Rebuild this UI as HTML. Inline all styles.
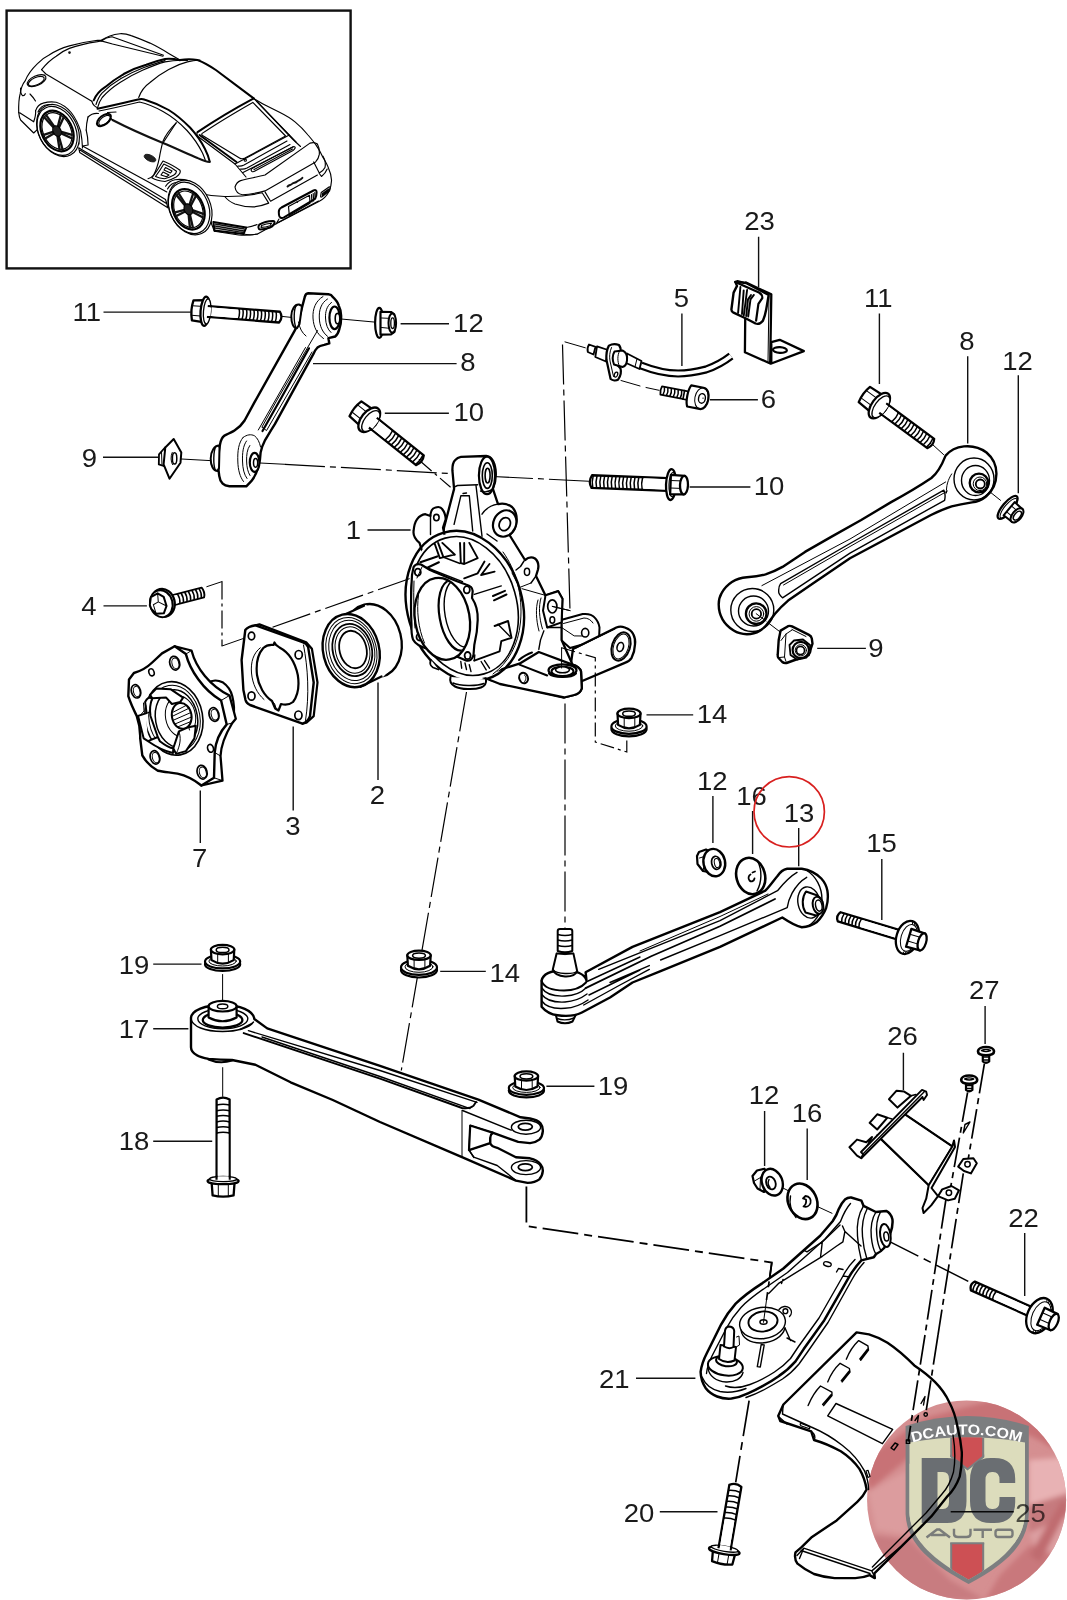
<!DOCTYPE html>
<html><head><meta charset="utf-8"><title>Rear axle parts diagram</title>
<style>
html,body{margin:0;padding:0;background:#fff;}
body{width:1067px;height:1600px;overflow:hidden;font-family:"Liberation Sans",sans-serif;}
svg{display:block;}
.o{fill:#fff;stroke:#000;stroke-width:2;stroke-linejoin:round;stroke-linecap:round;}
.w{fill:#fff;stroke:#000;stroke-width:2;stroke-linejoin:round;stroke-linecap:round;}
.m{fill:#fff;stroke:#000;stroke-width:1.4;stroke-linejoin:round;stroke-linecap:round;}
.i{fill:none;stroke:#000;stroke-width:1;stroke-linejoin:round;stroke-linecap:round;}
.t{fill:none;stroke:#000;stroke-width:1.4;stroke-linejoin:round;stroke-linecap:round;}
.k{fill:none;stroke:#000;stroke-width:2;stroke-linejoin:round;stroke-linecap:round;}
.g{fill:#fff;stroke:#000;stroke-width:1;stroke-linejoin:round;}
.d{fill:none;stroke:#000;stroke-width:1.2;stroke-dasharray:40 5 6 5;}
.l{fill:none;stroke:#111;stroke-width:1.4;}
.c{fill:none;stroke:#000;stroke-width:1.15;stroke-linejoin:round;stroke-linecap:round;}
.cb{fill:none;stroke:#000;stroke-width:2;stroke-linejoin:round;stroke-linecap:round;}
text{font-family:"Liberation Sans",sans-serif;font-size:25px;fill:#1a1a1a;text-anchor:middle;}
</style></head><body>
<svg width="1067" height="1600" viewBox="0 0 1067 1600">
<rect x="0" y="0" width="1067" height="1600" fill="#fff"/>
<!-- 00_box.svg -->
<rect x="6.6" y="10.6" width="344" height="257.8" fill="#fff" stroke="#111" stroke-width="2.4"/>

<!-- 10_car.svg -->
<g id="car">
<!-- body outline front/top -->
<path class="c" d="M18.7 112.5 C18.5 104 19 98 20.2 93.7 C21 88 22.5 84 25.3 80.6 C28 74 32 69 37.5 63.7 C41 60 44 57.5 48.7 55.3 C55 51 62 48 69.4 45.9 C78 43.5 88 41.5 97.5 40.3 L101.2 40.3 C106 37 112 34.5 120 33.7 C124 33.5 127 34 131.2 35.6 C138 38 144 40.5 150 43.1 C156 46 163 50 168.7 53.4 L180 60"/>
<path class="c" d="M41.6 69.7 C46 64 50 60 56.2 56.2 C60 53 64 50.5 69.4 48.4 C78 45.2 88 43 97.5 41.6 L101.2 40.9 L112.5 44 L163 56.2"/>
<path class="c" d="M101.2 40.9 C104 39 108 37.2 112 36.8 L163.5 55.2"/>
<path class="c" d="M41.6 69.7 L45.9 74 L91.8 101.2"/>
<circle cx="69.5" cy="52.6" r="1.3" fill="#111"/>
<!-- windshield -->
<path class="cb" d="M93.7 100.3 C96 95 100 90.5 105 87.2 C111 82 117 78 123.7 74 C131 70 138 67 146.2 64.7 C152 62.5 158 60.5 165 59 C170 58.4 175 59 180 60.2"/>
<path class="c" d="M91.8 101.2 C92.5 104 94.5 106.5 97.5 107.8 C98.5 104 100 100.5 102.2 97.5 C107 92 113 87 120 82.5 C127 78 134 74 142.5 70.3 C150 67 157 64 165 61.9 C172 60.4 180 60 187.4 60.4"/>
<path class="c" d="M96 104.5 C97.5 100 99.5 96 102 93.2 C108 87 114 82.5 121 78.5 C128 74.5 136 70.5 144 67.5 C151 65 158 62.6 165 60.6"/>
<path class="c" d="M122 75.6 l1.5 -0.8 M120 77 l0.8 -0.5"/>
<!-- roof front edge & near edge -->
<path class="c" d="M138.7 97.5 C141 91 145 86 150 82.5 C156 77 162 73 168.7 69.4 C175 66 181 63.5 187.4 61.9 C191 61 196 60.3 200 60"/>
<path class="cb" d="M97.5 108.7 C110 106 126 102.5 138 99.5 C141 98.8 143 99 145 99.8 C152 102 160 105 168.7 110 C176 114.5 183 120.5 190 127.5 C196 134 201 141 205 149 C207.5 154 209 158 209.7 161.5"/>
<path class="c" d="M99 111 C112 108.5 127 105 139.5 102 C146 103.5 155 107 163 111.5 C172 116.5 180 123 187 130.5 C193 137 198.5 145 202.5 153 C204 156.5 205 159 205.5 161"/>
<!-- roof far edge -->
<path class="cb" d="M180 60 C186 59 192 59 197.5 60 C204 62.5 210 66 216.2 70.3 L235 84.4 L253.7 98.4"/>
<path class="c" d="M253.7 98.4 C258 101 261 103 265 105 C270 107.5 275 110 280 112.5 C286 115.5 291 118.5 295 121.9 C300 126 304 130 308 135 C311 138.5 313.5 141.5 315.6 144.4 C318.5 148.5 321 153 323 157.5 C325.5 161.5 327.5 165 328.7 168.7 C330.3 172 331.3 176 331.5 180 C331.7 184 330.5 188 328.7 191.9 C326.5 196 323.5 199 319.3 201.2 L276.2 223.7 L257.5 234 C251 235.3 245 235.5 238.7 235 L214.4 231.2"/>
<!-- rear window -->
<path class="cb" d="M197.5 132.2 C214 121 234 109 253.7 98.4"/>
<path class="c" d="M197.5 132.2 C196.5 133.5 196.8 135 198 136.5 L235 164 M253.7 98.4 L289.3 135 L235 164"/>
<path class="c" d="M202.2 133.4 C218 122.5 236 112 252.8 102.4 L285.6 136 L245 158 C243 159 241 159 239.5 158 L202.5 135.5 C201.5 134.8 201.5 134 202.2 133.4Z"/>
<path class="cb" d="M199.5 135 L236.5 162"/>
<path class="c" d="M256.5 101 L292.5 139 L300.5 146.5"/>
<!-- engine lid slats -->
<path class="c" d="M235 164 L246 177 M289.3 135 L296 142 M238 166 C240 166.5 242 166 244 165 L287 141 M240.5 169 C243 169.5 245 169 247 168 L290 144.5 M243 172.5 L293 147"/>
<circle cx="245.3" cy="160.2" r="1.1" class="c"/>
<path class="c" d="M252 171.5 C250.5 170.5 251 169 252.5 168.2 L293 146.8 C294.5 146.2 295.6 147 295 148.3 C294.6 149.2 294 149.8 293 150.4 L255 171 C253.8 171.8 253 172 252 171.5Z M254 169.6 L292.5 149"/>
<!-- spoiler -->
<path class="c" d="M235 187 C236 183.5 238 181.5 240.6 180.6 C249 178.5 257 177 265 175 L310 143.1 C313 142.2 315.5 142.5 317.4 144 C319 147 319.6 150.5 319.3 154.4 C318.8 157.5 317.5 160 315.6 161.9 L265 190.9 C257 193 250 194.5 242.5 194.7 C238 194 235.5 191 235 187Z"/>
<path class="c" d="M313.7 161.9 L319.3 173 C322 171.5 324 169.5 325 167.5 C325.8 163.5 325 159.5 323 156.2"/>
<path class="c" d="M265 191.9 L270.6 201.2 L317.4 175"/>
<path class="c" d="M319.3 173.5 L321.5 176.5 C324 174.5 326 172 327.2 169"/>
<!-- turbo badge -->
<path d="M287.5 186.6 C289 184.5 291 185.5 292.5 183.5 C294 182.5 295.5 183 297 181.5 C298.5 180 300 180.5 302.4 177.8" fill="none" stroke="#111" stroke-width="1.9" stroke-linecap="round"/>
<!-- left taillight -->
<path class="c" d="M224.7 196.5 C228 200.5 231 202.5 235 204 C241 206 247 207 253.7 206.9 C259 206.5 264 205 268.7 203.1 L262.2 192.8 C250 195.5 238 196.8 224.7 196.5Z"/>
<path class="c" d="M201.2 193.7 C209 195.5 216 196.5 224.7 196.5"/>
<!-- plate recess -->
<path class="cb" d="M281.5 207.5 L313.5 190.5 C315.5 189.5 316.8 190.3 316.6 192.5 L316.2 196 C316 197.8 315.2 198.8 313.8 199.6 L284 217.3 C281.5 218.7 279.3 217.8 279 215 L278.8 212 C278.7 209.8 279.7 208.5 281.5 207.5Z"/>
<path class="c" d="M288.5 206.5 L309.5 195.3 L310 203.3 L289.3 215.4Z M311.5 194.5 l0.4 7.5 M313.2 193.5 l0.4 7.5 M314.8 192.6 l0.3 6.5"/>
<circle cx="297.3" cy="202" r="0.9" fill="#111"/>
<path class="c" d="M278 222.5 L318.5 201 M276.2 223.7 L279 219"/>
<!-- right reflector -->
<path class="c" d="M321.2 192.5 L329 187 C330 186.5 330.5 187 330.3 188 L329.6 190.8 L322 196.8 C321 197.4 320.5 197 320.6 196Z M322.5 193.5 L328.5 189.2 L328.2 190.8 L322.3 195.3Z"/>
<!-- lower vents -->
<path class="cb" d="M213.4 221.9 L246.2 227.5 L243.5 234 L214.5 230.5Z"/>
<path d="M215 224 L244.5 229 M215 226 L244 231 M215 228 L243.7 232.6" stroke="#111" stroke-width="1.3" fill="none"/>
<path class="cb" d="M259.3 224.7 C263 222.5 268 221.2 273 221 C274.5 221 275 222 274.3 223.5 C273.5 225.3 272 226.6 270 227.5 C266.5 228.8 263 229.5 260 229.5 C258.3 229.4 257.8 226.3 259.3 224.7Z"/>
<path class="c" d="M261.5 225.6 C264.5 224.2 268 223.4 271.5 223.3 L270 225.7 C267 226.8 264 227.3 261 227.3Z"/>
<path class="c" d="M246.2 227.5 C250 227 254 226 257 224.5 M243.5 234 C247 235 252 235 257.5 234"/>
<!-- rear wheel arch -->
<path class="c" d="M165.6 186.2 C168 182.5 171 180.5 175 179.7 C179.5 179 184 179.3 188 180.6 C193.5 183 198 187 201.2 191.9 C205 197 207.5 203 208.7 208.7 C210 214 211 219 211.5 223.7 L214.4 231.2"/>
<path class="c" d="M167.5 189 C170 184.5 173.5 182.3 178 182 C184 181.8 190 184 195 188.5 C200.5 194 204 201 206 208 C207.5 214 208.5 220 208.8 226"/>
<!-- side skirt -->
<path class="c" d="M82.5 146 L166.8 191.9 M78.7 147.8 L79.7 152.5 L167.8 207.8 M78.7 147.8 L165.5 199.5 M165.5 199.5 C166.5 202 167.2 205 167.8 207.8 M80.3 150.3 L166.5 203.5"/>
<!-- front fender rear / door -->
<path class="c" d="M86.2 130 C87.5 135 88 140 88.1 145 L82.5 146"/>
<path class="c" d="M88 117 C87 121 86.3 125 86.2 130"/>
<path class="c" d="M88 117 C91 114 94.5 113 98.5 113.5"/>
<!-- door rear edge -->
<path class="c" d="M176.2 122.8 C170 129 165.5 135 163 141.2 C161.5 147 160.2 152.5 159.3 158.1 C158 164.5 156.3 170 153.7 175 C152 177 150.5 178.3 148 178.7"/>
<!-- side window bottom (thick) -->
<path d="M112.5 120 C128 128 146 136 163 143 C175 148 188 154 197.5 158 C202 160 206 161.8 209.7 162" fill="none" stroke="#111" stroke-width="2.1" stroke-linecap="round"/>
<path class="c" d="M109 116.5 L112.5 120 M107.5 112.5 L116 112"/>
<!-- door handle -->
<ellipse cx="150" cy="158.1" rx="6.3" ry="3" transform="rotate(25 150 158.1)" fill="#222" stroke="#111" stroke-width="0.8"/>
<!-- side intake -->
<path class="c" d="M163 161 C169 163.5 175 166.5 180 170.3 C181 172.5 179 175 176.2 176.9 C172.5 179 169 180.5 165 181.5 C160 181.2 155.5 180 151.8 177.8 C156 172.5 159.5 167 163 161Z"/>
<path class="c" d="M163.8 164 C168.5 166 173 168.5 176.5 171.2 C176.5 172.8 175.2 174.2 173.5 175.3 C170.5 177 167.5 178 164.5 178.7 C161 178.5 158 177.7 155.5 176.5 C158.5 172.5 161.3 168.3 163.8 164Z"/>
<path class="c" d="M165.5 167.5 L172 171 L170.5 173 L164 170Z M163 172 L169 175 L166.5 176.7 L161 175Z"/>
<!-- headlight -->
<ellipse cx="36.6" cy="80.6" rx="10" ry="4.8" transform="rotate(-24 36.6 80.6)" class="c"/>
<ellipse cx="36.3" cy="81.2" rx="8.5" ry="3.7" transform="rotate(-24 36.3 81.2)" class="c"/>
<!-- front bumper details -->
<path class="c" d="M20.6 88.1 C20.3 91 21 94 22.5 95.6 C23.8 96 24.8 95 25.3 93.7"/>
<path class="c" d="M18.7 112.5 C19 115.5 19.6 118 20.6 120 L33.7 133 L37.5 129.3 M19.7 112.8 L33.7 121.8 M33.7 121.8 C35 118 36 114.5 35.6 110.6"/>
<path class="c" d="M30 94 C32 96 34 98.5 35.5 101"/>
<!-- front wheel arch -->
<path class="c" d="M35.6 110.6 C37 106.5 39.5 104 43.1 103.1 C47.5 101.8 52 101.5 56.2 102.2 C62 104 67 107.5 71.2 112.5 C75.5 118 78.5 124.5 80.6 131.2 C81.7 137 82.3 142.5 82.5 148"/>
<path class="c" d="M38 112 C40 107.5 43 105.3 47 104.8 C52 104.3 57 105.5 61.5 108.5 C67 112.5 71.5 118.5 74.5 125 C77 131 78.5 137.5 79 144"/>
<!-- mirror -->
<ellipse cx="104" cy="120" rx="8.2" ry="4.5" transform="rotate(-38 104 120)" class="cb" style="fill:#fff"/>
<ellipse cx="104.5" cy="120.3" rx="6.8" ry="3.4" transform="rotate(-38 104.5 120.3)" class="c"/>
<!-- B pillar -->
<path class="c" d="M176.2 122.8 L163 143"/>
</g>

<!-- 11_wheels.svg -->
<g id="wheels">
<g><ellipse cx="58.0" cy="130.5" rx="27.5" ry="19.5" transform="rotate(63 58.0 130.5)" class="c" style="fill:#fff"/><ellipse cx="57.1" cy="130.9" rx="25.8" ry="18.3" transform="rotate(63 57.1 130.9)" class="c" /><ellipse cx="57.0" cy="131.0" rx="21.4" ry="15.2" transform="rotate(63 57.0 131.0)" class="cb" style="stroke-width:2.2"/><ellipse cx="57.0" cy="131.0" rx="19.3" ry="13.7" transform="rotate(63 57.0 131.0)" class="c" /><path d="M57.7 132.2 L62.8 150.2" stroke="#111" stroke-width="2.3" fill="none"/><path d="M56.9 132.2 L59.7 150.2" stroke="#111" stroke-width="2.3" fill="none"/><path d="M56.4 131.9 L44.8 138.7" stroke="#111" stroke-width="2.3" fill="none"/><path d="M55.9 130.9 L43.0 135.1" stroke="#111" stroke-width="2.3" fill="none"/><path d="M56.0 130.3 L43.6 116.6" stroke="#111" stroke-width="2.3" fill="none"/><path d="M56.5 129.7 L45.6 114.3" stroke="#111" stroke-width="2.3" fill="none"/><path d="M57.0 129.7 L61.0 114.3" stroke="#111" stroke-width="2.3" fill="none"/><path d="M57.7 130.3 L64.0 116.6" stroke="#111" stroke-width="2.3" fill="none"/><path d="M58.0 130.9 L72.8 135.1" stroke="#111" stroke-width="2.3" fill="none"/><path d="M58.0 131.9 L72.7 138.8" stroke="#111" stroke-width="2.3" fill="none"/><ellipse cx="57.0" cy="131.0" rx="5.5" ry="3.9" transform="rotate(63 57.0 131.0)" class="c" style="fill:#222"/></g>
<g><ellipse cx="190.0" cy="207.5" rx="28.5" ry="20.5" transform="rotate(66 190.0 207.5)" class="c" style="fill:#fff"/><ellipse cx="189.1" cy="207.9" rx="26.8" ry="19.3" transform="rotate(66 189.1 207.9)" class="c" /><ellipse cx="188.4" cy="209.3" rx="21.1" ry="15.2" transform="rotate(66 188.4 209.3)" class="cb" style="stroke-width:2.2"/><ellipse cx="188.4" cy="209.3" rx="19.0" ry="13.7" transform="rotate(66 188.4 209.3)" class="c" /><path d="M189.0 210.6 L193.1 228.5" stroke="#111" stroke-width="2.3" fill="none"/><path d="M188.2 210.5 L190.0 228.3" stroke="#111" stroke-width="2.3" fill="none"/><path d="M187.7 210.2 L175.8 216.3" stroke="#111" stroke-width="2.3" fill="none"/><path d="M187.3 209.1 L174.3 212.6" stroke="#111" stroke-width="2.3" fill="none"/><path d="M187.4 208.5 L176.0 194.5" stroke="#111" stroke-width="2.3" fill="none"/><path d="M187.9 208.0 L178.0 192.3" stroke="#111" stroke-width="2.3" fill="none"/><path d="M188.4 208.0 L193.3 193.1" stroke="#111" stroke-width="2.3" fill="none"/><path d="M189.2 208.6 L196.1 195.5" stroke="#111" stroke-width="2.3" fill="none"/><path d="M189.5 209.2 L203.9 214.1" stroke="#111" stroke-width="2.3" fill="none"/><path d="M189.4 210.2 L203.5 217.7" stroke="#111" stroke-width="2.3" fill="none"/><ellipse cx="188.4" cy="209.3" rx="5.7" ry="4.1" transform="rotate(66 188.4 209.3)" class="c" style="fill:#222"/></g>
</g>

<!-- 15_dashlines.svg -->
<g id="dashlines">
<!-- link8L to knuckle -->
<path class="d" d="M285 464.3 L451.5 473.6"/>
<path class="d" style="stroke-dasharray:14 4 3 4" d="M421 461.8 L451.5 488"/>
<!-- knuckle to bolt10R -->
<path class="d" d="M493 476.5 L590 481.3"/>
<!-- sensor lines -->
<path class="d" d="M562.5 344.5 L565 436 L570 610.6"/>
<!-- bolt4 path -->
<path class="i" d="M206.8 586.7 L222 581.6 M222 646 L246.2 637.5"/>
<path class="d" style="stroke-dasharray:18 4 3 4" d="M222 581.6 V646"/>
<!-- plate to knuckle -->
<path class="d" d="M272.5 627.2 L410 578.5"/>
<!-- knuckle down to link17 -->
<path class="d" d="M466.5 692 L401.3 1070.5"/>
<!-- knuckle lower arm to link13 -->
<path class="d" d="M565 703.4 V928"/>
<!-- link17 fork to arm 21 -->
<path class="d" style="stroke-width:1.8;stroke-dasharray:36 6 8 6" d="M526.4 1186.4 V1226 L771.8 1262.5 L765.5 1308"/>
<path class="i" d="M765.5 1308 L763.5 1322.3"/>
<!-- arm 21 to bolt 20 -->
<path class="d" style="stroke-width:1.7;stroke-dasharray:36 6 8 6" d="M749.1 1400.6 L741.9 1444.1 L735.7 1482.3"/>
<!-- arm 21 to bolt 22 -->
<path class="d" style="stroke-width:1.5;stroke-dasharray:36 6 8 6" d="M886.2 1239.8 L969.6 1282"/>
<!-- bracket/screw lines -->
<path class="d" style="stroke-dasharray:30 5 6 5;stroke-width:1.7" d="M984.4 1063.7 L967.5 1163.3 M963.3 1173.4 L938 1335"/>
<path class="d" style="stroke-dasharray:30 5 6 5;stroke-width:1.7" d="M967.6 1092.4 L949.8 1192 M946 1199 L925 1335"/>
</g>

<!-- 20_link8_left.svg -->
<g id="link8L">
<!-- axis lines -->
<path class="i" d="M281.2 316.3 L291.3 317.4 M341 319 L377 322.3 M181.3 459 L210 460.6 M259.8 463 L285 464.3"/>
<!-- bolt 11 (generated) -->
<!-- link body -->
<path class="o" style="stroke-width:2.4" d="M304.8 296.9 Q305.5 293.5 308.2 293.2 L328.4 294.3 Q331.5 294.6 332.7 296.9 C336 300 338 303 338.6 305.3 C340.5 309 341.3 313 341.1 317.1 C341.2 322 340.5 326 339.4 328.9 C338.5 332.5 337 335 335.2 336.5 L328.4 338.2 L329.3 343.3 L324.2 344.9 C321.5 345.5 319 346.3 317.5 347.5 C315.5 349.5 314.2 352 313.3 354.2 L275 423.9 C270.5 431 267 437 264.8 440.7 C262.5 445 261.3 449 260.6 452.5 C260.5 458 259.5 463 258.1 467.7 C256.5 473 254 478 251.3 481.2 L246.3 486.3 L229.4 486.3 C226 486 224 485 222.7 483.7 C220.5 481.5 219.6 479 219.3 476.2 C218.3 470 218 464.5 218.4 459.3 C218.5 454 219 449 220.1 444.1 C220.8 440 222 437.5 224.3 435.7 C228 434 231.5 432.5 234.5 430.6 C238.5 428 242 424.5 244.6 420.5 L254.7 401.9 L294.7 330.6 C296.5 327.5 297.5 325 298.1 322.2Z"/>
<!-- upper-left bushing stub -->
<path class="o" style="fill:#fff;stroke-width:2" d="M299 304.5 C295 304 291.5 309 291.3 316 C291.2 323 293.5 328.5 297 328.3 L299.5 324 L302 306Z"/>
<path class="t" d="M296.5 305.5 C293.8 308 293.3 322 296 327.5"/>
<!-- upper boss arcs & bushing -->
<path class="i" d="M323 296.5 C315.5 301 312.5 309 313 318 C313.5 327 317 334 323.5 338.5 M327.5 299 C321 303 319 310 319.3 318 C319.6 326 322.5 332.5 327.5 336.3 M331.5 302.5 C326.5 306 325.3 312 325.5 318 C325.7 324 327.6 329.5 331 332.5"/>
<ellipse cx="334.6" cy="317.8" rx="5.2" ry="11.3" class="o" style="stroke-width:2.2"/>
<ellipse cx="337.5" cy="318.6" rx="2.3" ry="5.2" class="o" style="stroke-width:1.6;fill:#fff"/>
<!-- arm inner lines -->
<path class="i" d="M317.5 330.6 L277 400 L262 427 M312 352 L266.5 430.6 L262.3 427.2 M298.5 322 C299.5 328 302 333 306 336"/>
<path d="M309 348.3 L281.2 398 L262.5 431" stroke="#000" stroke-width="2.2" fill="none" stroke-linecap="round"/>
<path class="i" d="M305.5 347.5 L258.3 430"/>
<!-- lower left bushing stub -->
<path class="o" style="fill:#fff;stroke-width:2" d="M219 445.5 C214.5 445.5 210.8 451 210.7 458.5 C210.6 466 213.5 471 217.5 471 L219 468 L219.5 448Z"/>
<path class="t" d="M216 446.5 C213.3 450 213 466 215.5 470.3"/>
<!-- lower boss arcs & bushing -->
<path class="i" d="M243 437.5 C238.5 443 237.5 451 237.8 461 C238 470 240 477 243.5 481.5 M246.5 441 C243 446 242.3 453 242.5 461 C242.7 468.5 244 474.5 247 478.5 M249.8 445.5 C247 449.5 246.5 455 246.6 461 C246.7 467 247.8 472 250 475.5"/>
<path class="i" d="M243 437.5 C247 434.5 251 434 254.5 435.8 C257.5 438 259.5 442 260.6 447"/>
<ellipse cx="254.6" cy="462.4" rx="4.8" ry="9.5" class="o" style="stroke-width:2.2"/>
<ellipse cx="255.6" cy="462.8" rx="2.1" ry="4.4" class="o" style="stroke-width:1.5;fill:#fff"/>
<!-- nut 12 -->
<g>
<ellipse cx="379.3" cy="322.9" rx="4.2" ry="15" class="o" style="stroke-width:2.2"/>
<path class="o" style="stroke-width:2.2" d="M380.5 311.8 L391 312 L394.3 314.5 L394.5 331.8 L391 334.3 L380.5 334.6Z"/>
<path class="i" d="M381.5 318 L388.5 318.3 L392.8 317.5 M381.5 327.5 L388.5 328.2 L393 328.8 M388.5 318.3 L388.5 328.2"/>
<ellipse cx="392.3" cy="323" rx="3.8" ry="9.6" class="o" style="stroke-width:2"/>
<ellipse cx="392.6" cy="323.2" rx="1.8" ry="5.3" class="o" style="stroke-width:1.3;fill:#fff"/>
</g>
<!-- nut 9 -->
<g>
<path class="o" style="stroke-width:1.8" d="M159 454.3 L165 447.5 L165.5 464.5 L163.6 466 L158.8 464.4Z"/>
<path class="o" style="stroke-width:2" d="M173.7 439 L181.3 452.5 L180.5 462.7 L169.5 478.7 L163.6 464.3 L165.3 447.5Z"/>
<path class="i" d="M161.5 451.5 L162 465.3"/>
<ellipse cx="174.6" cy="458.4" rx="2.2" ry="5.6" class="o" style="stroke-width:1.5;fill:#fff"/>
<path class="i" d="M172.2 452.5 C170.5 456 170.7 462 172.5 464.6"/>
</g>
</g>

<!-- 21_link8_right.svg -->
<g id="link8R">
<path class="i" d="M932.4 444.4 L943.6 454.6 M980 484 L1000.5 500.3 M756.2 613.7 L785.2 635.8"/>
<!-- link body -->
<path class="o" style="stroke-width:2.4" d="M945.6 455.6 C950 450.5 956 447.3 963.9 446.4 C972 445.6 980 447.5 986.5 452.5 C993 458 996.5 465.5 996.4 473.9 C996.3 483 992.5 491 986 496.5 C982 499.8 977 502 972 502.4 C965 503.5 958 504.8 951.7 506.4 C945 508.5 938 511.5 931 515 L850 558.3 L812.5 583.7 L788.1 600.6 C783 605 778.5 609.5 775 613.7 L769.4 621.2 C766.5 625.5 763.5 628.5 760 630.6 C756 633 751.5 634.2 746.9 634.3 C742 634.2 737.5 633 733.7 630.6 C729 627.5 725 623.8 722.5 619.3 C720 615 718.7 610 718.7 604.3 C718.7 600 719.7 596.3 721.6 593.1 C724 588.5 727.5 584.8 731.9 581.9 C736.5 579 741.5 577.6 746.9 577.2 C753.5 576.8 760 576 765.6 574.4 C771.5 572.5 777 570 782.5 566.9 L805 551.9 L831.2 536.9 L861.2 520 L890.7 502.4 C906 494 921 485 931.4 478 C937 473.5 941.5 466 945.6 455.6Z"/>
<!-- upper rings -->
<path class="i" d="M951.7 473.9 C948 479.5 946 486 946.5 493 M945.6 482 L850 539 L761.9 585.6"/>
<ellipse cx="974" cy="479" rx="20" ry="21" class="t"/>
<ellipse cx="975.5" cy="480.5" rx="14" ry="15" class="t"/>
<circle cx="979" cy="483" r="9.3" class="o" style="stroke-width:2.3"/>
<circle cx="980" cy="483.8" r="6.8" class="i"/>
<circle cx="980.3" cy="484" r="4.5" class="o" style="stroke-width:1.8"/>
<!-- slot -->
<path class="t" d="M943.8 490.2 C945.3 493 945.3 497 944.6 500.3 L850 553.2 L782.5 597.8 C780 595.5 778.5 592.5 778.7 591.2 C778.5 588 779.3 585.5 780.6 583.7 L850 543.5 L943.8 490.2"/>
<path class="i" d="M947.5 491 L850 546.5 L783.5 585"/>
<!-- lower rings -->
<circle cx="752.3" cy="610" r="21.5" class="t"/>
<circle cx="753.5" cy="611" r="15" class="t"/>
<circle cx="756.2" cy="613.7" r="10.3" class="o" style="stroke-width:2.3"/>
<circle cx="756.4" cy="613.9" r="7.3" class="i"/>
<circle cx="756.4" cy="613.9" r="4.7" class="o" style="stroke-width:1.8"/>
<path class="i" d="M756.2 613.7 L766 621"/>
<!-- nut 12 right -->
<g transform="translate(1007.6 507.4) rotate(40)">
<ellipse cx="0" cy="0" rx="5" ry="14.3" class="o" style="stroke-width:2.3"/>
<ellipse cx="1.5" cy="0" rx="4.2" ry="12.5" class="i"/>
<path class="o" d="M2 -8.6 L11.5 -8.3 L12.5 8.3 L2 8.6Z"/>
<path class="i" d="M3 -3.6 H12 M3 4 H12.3"/>
<ellipse cx="12.3" cy="0" rx="4.6" ry="8.4" class="o" style="stroke-width:2"/>
<ellipse cx="12.8" cy="0" rx="2.8" ry="5.3" class="o" style="stroke-width:1.5;fill:#fff"/>
</g>
<!-- nut 9 right -->
<path class="o" style="stroke-width:2.4" d="M780.6 630.6 L788 626.2 Q790 625.4 792 626.4 L809 634.8 Q811.3 636 811.8 638.5 L812.5 643.7 L808.7 655 L786.5 663 Q784 663.5 782.3 662 L778.5 658 Q777.5 656.8 777.7 655 L778.7 640Z"/>
<path class="i" d="M781 640.5 L786 634 L792 630 M786 634 L784.5 657 L779.5 657.5 M784.5 657 L786 661.5 M792 629.5 L806 636.5"/>
<path class="o" style="stroke-width:1.8" d="M789.5 645 L794 640.5 L803 639.5 L810 645 L810.5 652 L806.5 657.5 L797 659.5 L790.5 655Z"/>
<circle cx="800.8" cy="650" r="8.2" class="o" style="stroke-width:2.2"/>
<circle cx="800.8" cy="650.3" r="5.6" class="i"/>
<circle cx="800.5" cy="650.5" r="4" class="o" style="stroke-width:1.6;fill:#fff"/>
</g>

<!-- 30_bolts.svg -->
<g id="bolts">
<g transform="translate(354.5 408.0) rotate(38.6)"><path d="M42.9 -6.2 H83.7 Q87.2 0 83.7 6.2 H42.9Z" fill="#fff" stroke="none"/><path d="M24.5 -6.2 H83.7 Q87.5 0 83.7 6.2 H24.5Z" fill="none" stroke="#000" stroke-width="2.3" stroke-linejoin="round"/><path d="M24.5 -5.1 H42.9 V5.1 H24.5Z" fill="#fff" stroke="none"/><path d="M43.9 -6.2 Q45.5 0 43.9 6.2 M47.8 -6.2 Q49.4 0 47.8 6.2 M51.7 -6.2 Q53.3 0 51.7 6.2 M55.6 -6.2 Q57.2 0 55.6 6.2 M59.5 -6.2 Q61.1 0 59.5 6.2 M63.4 -6.2 Q65.0 0 63.4 6.2 M67.3 -6.2 Q68.9 0 67.3 6.2 M71.2 -6.2 Q72.8 0 71.2 6.2 M75.1 -6.2 Q76.7 0 75.1 6.2 M79.0 -6.2 Q80.6 0 79.0 6.2 M82.9 -6.2 Q84.5 0 82.9 6.2 " fill="none" stroke="#000" stroke-width="1.5"/><path d="M1.2 -9.5 L16.5 -10.5 L16.5 10.5 L1.2 9.5 Q-1.3 0 1.2 -9.5Z" class="o" style="stroke-width:2.3"/><path d="M0.5 -4.4 H16.5 M0.5 4.7 H16.5" class="i"/><ellipse cx="18.9" cy="0" rx="8.0" ry="14.3" class="o" style="stroke-width:2.3"/><ellipse cx="20.9" cy="0" rx="6.4" ry="12.3" class="o" style="stroke-width:1.3"/><path d="M23.5 -6.2 H27.5 M23.5 6.2 H27.5" stroke="#000" stroke-width="2.3" fill="none"/><rect x="23.0" y="-5.1" width="4" height="10.1" fill="#fff"/><circle cx="83.2" cy="0" r="0.9" fill="#000"/></g>
<g transform="translate(863.4 393.8) rotate(36.4)"><path d="M38.4 -5.8 H83.7 Q87.2 0 83.7 5.8 H38.4Z" fill="#fff" stroke="none"/><path d="M25.0 -5.8 H83.7 Q87.5 0 83.7 5.8 H25.0Z" fill="none" stroke="#000" stroke-width="2.3" stroke-linejoin="round"/><path d="M25.0 -4.7 H38.4 V4.7 H25.0Z" fill="#fff" stroke="none"/><path d="M39.4 -5.8 Q41.0 0 39.4 5.8 M43.3 -5.8 Q44.9 0 43.3 5.8 M47.2 -5.8 Q48.8 0 47.2 5.8 M51.1 -5.8 Q52.7 0 51.1 5.8 M55.0 -5.8 Q56.6 0 55.0 5.8 M58.9 -5.8 Q60.5 0 58.9 5.8 M62.8 -5.8 Q64.4 0 62.8 5.8 M66.7 -5.8 Q68.3 0 66.7 5.8 M70.6 -5.8 Q72.2 0 70.6 5.8 M74.5 -5.8 Q76.1 0 74.5 5.8 M78.4 -5.8 Q80.0 0 78.4 5.8 M82.3 -5.8 Q83.9 0 82.3 5.8 " fill="none" stroke="#000" stroke-width="1.5"/><path d="M1.2 -9.5 L17.5 -10.5 L17.5 10.5 L1.2 9.5 Q-1.3 0 1.2 -9.5Z" class="o" style="stroke-width:2.3"/><path d="M0.5 -4.4 H17.5 M0.5 4.7 H17.5" class="i"/><ellipse cx="19.8" cy="0" rx="7.5" ry="14.8" class="o" style="stroke-width:2.3"/><ellipse cx="21.8" cy="0" rx="6.0" ry="12.8" class="o" style="stroke-width:1.3"/><path d="M24.0 -5.8 H28.0 M24.0 5.8 H28.0" stroke="#000" stroke-width="2.3" fill="none"/><rect x="23.5" y="-4.7" width="4" height="9.3" fill="#fff"/><circle cx="83.2" cy="0" r="0.9" fill="#000"/></g>
<g transform="translate(191.5 310.2) rotate(4.5)"><path d="M46.3 -5.4 H88.3 Q91.8 0 88.3 5.4 H46.3Z" fill="#fff" stroke="none"/><path d="M16.9 -5.4 H88.3 Q92.1 0 88.3 5.4 H16.9Z" fill="none" stroke="#000" stroke-width="2.3" stroke-linejoin="round"/><path d="M16.9 -4.2 H46.3 V4.2 H16.9Z" fill="#fff" stroke="none"/><path d="M47.3 -5.4 Q48.9 0 47.3 5.4 M51.0 -5.4 Q52.6 0 51.0 5.4 M54.7 -5.4 Q56.3 0 54.7 5.4 M58.4 -5.4 Q60.0 0 58.4 5.4 M62.1 -5.4 Q63.7 0 62.1 5.4 M65.8 -5.4 Q67.4 0 65.8 5.4 M69.5 -5.4 Q71.1 0 69.5 5.4 M73.2 -5.4 Q74.8 0 73.2 5.4 M76.9 -5.4 Q78.5 0 76.9 5.4 M80.6 -5.4 Q82.2 0 80.6 5.4 M84.3 -5.4 Q85.9 0 84.3 5.4 " fill="none" stroke="#000" stroke-width="1.5"/><path d="M1.2 -10.0 L12.3 -11.0 L12.3 11.0 L1.2 10.0 Q-1.3 0 1.2 -10.0Z" class="o" style="stroke-width:2.3"/><path d="M0.5 -4.6 H12.3 M0.5 5.0 H12.3" class="i"/><ellipse cx="13.7" cy="0" rx="4.6" ry="14.6" class="o" style="stroke-width:2.3"/><ellipse cx="15.7" cy="0" rx="3.7" ry="12.6" class="o" style="stroke-width:1.3"/><path d="M15.9 -5.4 H19.9 M15.9 5.4 H19.9" stroke="#000" stroke-width="2.3" fill="none"/><rect x="15.4" y="-4.2" width="4" height="8.5" fill="#fff"/></g>
<g transform="translate(686.5 485.2) rotate(-177.8)"><path d="M43.1 -6.3 H94.8 Q98.3 0 94.8 6.3 H43.1Z" fill="#fff" stroke="none"/><path d="M19.0 -6.3 H94.8 Q98.6 0 94.8 6.3 H19.0Z" fill="none" stroke="#000" stroke-width="2.3" stroke-linejoin="round"/><path d="M19.0 -5.2 H43.1 V5.2 H19.0Z" fill="#fff" stroke="none"/><path d="M44.1 -6.3 Q45.7 0 44.1 6.3 M47.9 -6.3 Q49.5 0 47.9 6.3 M51.7 -6.3 Q53.3 0 51.7 6.3 M55.5 -6.3 Q57.1 0 55.5 6.3 M59.3 -6.3 Q60.9 0 59.3 6.3 M63.1 -6.3 Q64.7 0 63.1 6.3 M66.9 -6.3 Q68.5 0 66.9 6.3 M70.7 -6.3 Q72.3 0 70.7 6.3 M74.5 -6.3 Q76.1 0 74.5 6.3 M78.3 -6.3 Q79.9 0 78.3 6.3 M82.1 -6.3 Q83.7 0 82.1 6.3 M85.9 -6.3 Q87.5 0 85.9 6.3 M89.7 -6.3 Q91.3 0 89.7 6.3 M93.5 -6.3 Q95.1 0 93.5 6.3 " fill="none" stroke="#000" stroke-width="1.5"/><ellipse cx="15.5" cy="0" rx="5.0" ry="15.4" class="o" style="stroke-width:2.3"/><ellipse cx="14.0" cy="0" rx="3.6" ry="12.2" class="i"/><path d="M2 -9.2 L16.0 -9.8 L16.0 9.8 L2 9.2Z" class="o" style="stroke-width:2.3"/><path d="M3 -3.4 H16.0 M3 4.0 H16.0" class="i"/><ellipse cx="2.5" cy="0" rx="4" ry="9.2" class="o" style="stroke-width:2.3"/></g>
<g transform="translate(924.5 942.6) rotate(-163.2)"><path d="M66.2 -4.8 H89.1 Q92.6 0 89.1 4.8 H66.2Z" fill="#fff" stroke="none"/><path d="M25.5 -4.8 H89.1 Q92.9 0 89.1 4.8 H25.5Z" fill="none" stroke="#000" stroke-width="2.3" stroke-linejoin="round"/><path d="M25.5 -3.6 H66.2 V3.6 H25.5Z" fill="#fff" stroke="none"/><path d="M67.2 -4.8 Q68.8 0 67.2 4.8 M70.8 -4.8 Q72.4 0 70.8 4.8 M74.4 -4.8 Q76.0 0 74.4 4.8 M78.0 -4.8 Q79.6 0 78.0 4.8 M81.6 -4.8 Q83.2 0 81.6 4.8 M85.2 -4.8 Q86.8 0 85.2 4.8 " fill="none" stroke="#000" stroke-width="1.5"/><ellipse cx="17.8" cy="0" rx="11.0" ry="17.0" class="o" style="stroke-width:2.3"/><ellipse cx="16.3" cy="0" rx="7.9" ry="13.8" class="i"/><path d="M17.8 17.0 L16.8 14.4 M15.4 16.6 L14.9 14.0 M13.0 15.3 L13.1 13.0 M10.9 13.3 L11.5 11.3 M9.2 10.6 L10.1 9.0 M7.9 7.4 L9.1 6.2 M7.1 3.8 L8.4 3.2 M6.8 0.0 L8.2 0.0 M7.1 -3.8 L8.4 -3.2 M7.9 -7.4 L9.1 -6.2 M9.2 -10.6 L10.1 -9.0 M10.9 -13.3 L11.5 -11.3 M13.0 -15.3 L13.1 -13.0 M15.4 -16.6 L14.9 -14.0 M17.8 -17.0 L16.8 -14.4 " class="i"/><path d="M2 -8.8 L16.5 -9.3 L16.5 9.3 L2 8.8Z" class="o" style="stroke-width:2.3"/><path d="M3 -3.3 H16.5 M3 3.8 H16.5" class="i"/><ellipse cx="2.5" cy="0" rx="4" ry="8.8" class="o" style="stroke-width:2.3"/></g>
<g transform="translate(223.1 1196.5) rotate(-90.0)"><path d="M62.4 -6.5 H97.0 Q100.5 0 97.0 6.5 H62.4Z" fill="#fff" stroke="none"/><path d="M17.7 -6.5 H97.0 Q100.8 0 97.0 6.5 H17.7Z" fill="none" stroke="#000" stroke-width="2.3" stroke-linejoin="round"/><path d="M17.7 -5.3 H62.4 V5.3 H17.7Z" fill="#fff" stroke="none"/><path d="M63.4 -6.5 Q65.0 0 63.4 6.5 M69.0 -6.5 Q70.6 0 69.0 6.5 M74.6 -6.5 Q76.2 0 74.6 6.5 M80.2 -6.5 Q81.8 0 80.2 6.5 M85.8 -6.5 Q87.4 0 85.8 6.5 M91.4 -6.5 Q93.0 0 91.4 6.5 " fill="none" stroke="#000" stroke-width="1.5"/><path d="M1.2 -10.5 L14.5 -11.5 L14.5 11.5 L1.2 10.5 Q-1.3 0 1.2 -10.5Z" class="o" style="stroke-width:2.3"/><path d="M0.5 -4.8 H14.5 M0.5 5.2 H14.5" class="i"/><ellipse cx="15.5" cy="0" rx="3.2" ry="15.5" class="o" style="stroke-width:2.3"/><ellipse cx="17.5" cy="0" rx="2.6" ry="13.5" class="o" style="stroke-width:1.3"/><path d="M16.7 -6.5 H20.7 M16.7 6.5 H20.7" stroke="#000" stroke-width="2.3" fill="none"/><rect x="16.2" y="-5.3" width="4" height="10.7" fill="#fff"/></g>
<g transform="translate(1056.0 1323.0) rotate(-156.0)"><path d="M66.4 -4.8 H91.0 Q94.5 0 91.0 4.8 H66.4Z" fill="#fff" stroke="none"/><path d="M26.5 -4.8 H91.0 Q94.8 0 91.0 4.8 H26.5Z" fill="none" stroke="#000" stroke-width="2.3" stroke-linejoin="round"/><path d="M26.5 -3.6 H66.4 V3.6 H26.5Z" fill="#fff" stroke="none"/><path d="M67.4 -4.8 Q69.0 0 67.4 4.8 M71.0 -4.8 Q72.6 0 71.0 4.8 M74.6 -4.8 Q76.2 0 74.6 4.8 M78.2 -4.8 Q79.8 0 78.2 4.8 M81.8 -4.8 Q83.4 0 81.8 4.8 M85.4 -4.8 Q87.0 0 85.4 4.8 M89.0 -4.8 Q90.6 0 89.0 4.8 " fill="none" stroke="#000" stroke-width="1.5"/><ellipse cx="18.1" cy="0" rx="12.0" ry="18.5" class="o" style="stroke-width:2.3"/><ellipse cx="16.6" cy="0" rx="8.6" ry="15.3" class="i"/><path d="M18.1 18.5 L17.1 15.9 M15.4 18.0 L15.0 15.5 M12.9 16.7 L13.0 14.3 M10.6 14.5 L11.3 12.4 M8.7 11.5 L9.8 9.9 M7.3 8.0 L8.7 6.9 M6.4 4.1 L8.0 3.5 M6.1 0.0 L7.7 0.0 M6.4 -4.1 L8.0 -3.5 M7.3 -8.0 L8.7 -6.9 M8.7 -11.5 L9.8 -9.9 M10.6 -14.5 L11.3 -12.4 M12.9 -16.7 L13.0 -14.3 M15.4 -18.0 L15.0 -15.5 M18.1 -18.5 L17.1 -15.9 " class="i"/><path d="M2 -8.8 L16.5 -9.3 L16.5 9.3 L2 8.8Z" class="o" style="stroke-width:2.3"/><path d="M3 -3.3 H16.5 M3 3.8 H16.5" class="i"/><ellipse cx="2.5" cy="0" rx="4" ry="8.8" class="o" style="stroke-width:2.3"/></g>
<g transform="translate(722.0 1564.0) rotate(-80.3)"><path d="M44.6 -6.1 H79.2 Q82.7 0 79.2 6.1 H44.6Z" fill="#fff" stroke="none"/><path d="M15.9 -6.1 H79.2 Q83.0 0 79.2 6.1 H15.9Z" fill="none" stroke="#000" stroke-width="2.3" stroke-linejoin="round"/><path d="M15.9 -4.9 H44.6 V4.9 H15.9Z" fill="#fff" stroke="none"/><path d="M45.6 -6.1 Q47.2 0 45.6 6.1 M51.2 -6.1 Q52.8 0 51.2 6.1 M56.8 -6.1 Q58.4 0 56.8 6.1 M62.4 -6.1 Q64.0 0 62.4 6.1 M68.0 -6.1 Q69.6 0 68.0 6.1 M73.6 -6.1 Q75.2 0 73.6 6.1 " fill="none" stroke="#000" stroke-width="1.5"/><path d="M1.2 -10.3 L12.5 -11.3 L12.5 11.3 L1.2 10.3 Q-1.3 0 1.2 -10.3Z" class="o" style="stroke-width:2.3"/><path d="M0.5 -4.7 H12.5 M0.5 5.1 H12.5" class="i"/><ellipse cx="13.5" cy="0" rx="3.4" ry="15.5" class="o" style="stroke-width:2.3"/><ellipse cx="15.5" cy="0" rx="2.7" ry="13.5" class="o" style="stroke-width:1.3"/><path d="M14.9 -6.1 H18.9 M14.9 6.1 H18.9" stroke="#000" stroke-width="2.3" fill="none"/><rect x="14.4" y="-4.9" width="4" height="9.9" fill="#fff"/></g>
</g>

<!-- 31_nuts.svg -->
<g id="nutsV">
<g><ellipse cx="222.6" cy="964.2" rx="17.6" ry="6.8" class="o" style="stroke-width:2.2"/><ellipse cx="222.6" cy="961.6" rx="17.6" ry="6.8" class="o" style="stroke-width:2.2"/><ellipse cx="222.6" cy="961.1" rx="13.7" ry="4.9" class="i"/><path class="o" style="stroke-width:2.2" d="M210.9 949.6 L211.5 960.1 Q222.6 967.1 233.7 960.1 L234.3 949.6Z"/><ellipse cx="222.6" cy="949.6" rx="11.7" ry="4.7" class="o" style="stroke-width:2.2"/><path class="i" d="M217.7 953.8 V962.8 M228.4 953.6 V962.6"/><ellipse cx="222.6" cy="949.9" rx="6.4" ry="2.6" class="o" style="stroke-width:1.5;fill:#fff"/></g>
<g><ellipse cx="526.4" cy="1090.6" rx="17.6" ry="6.8" class="o" style="stroke-width:2.2"/><ellipse cx="526.4" cy="1088.0" rx="17.6" ry="6.8" class="o" style="stroke-width:2.2"/><ellipse cx="526.4" cy="1087.5" rx="13.7" ry="4.9" class="i"/><path class="o" style="stroke-width:2.2" d="M514.7 1076.0 L515.3 1086.5 Q526.4 1093.5 537.5 1086.5 L538.1 1076.0Z"/><ellipse cx="526.4" cy="1076.0" rx="11.7" ry="4.7" class="o" style="stroke-width:2.2"/><path class="i" d="M521.5 1080.2 V1089.2 M532.2 1080.0 V1089.0"/><ellipse cx="526.4" cy="1076.3" rx="6.4" ry="2.6" class="o" style="stroke-width:1.5;fill:#fff"/></g>
<g><ellipse cx="419.0" cy="969.9" rx="18.0" ry="7.6" class="o" style="stroke-width:2.2"/><ellipse cx="419.0" cy="967.3" rx="18.0" ry="7.6" class="o" style="stroke-width:2.2"/><ellipse cx="419.0" cy="966.8" rx="14.0" ry="5.5" class="i"/><path class="o" style="stroke-width:2.2" d="M407.3 955.3 L407.9 965.8 Q419.0 972.8 430.1 965.8 L430.7 955.3Z"/><ellipse cx="419.0" cy="955.3" rx="11.7" ry="4.7" class="o" style="stroke-width:2.2"/><path class="i" d="M414.1 959.5 V968.5 M424.9 959.3 V968.3"/><ellipse cx="419.0" cy="955.6" rx="6.4" ry="2.6" class="o" style="stroke-width:1.5;fill:#fff"/></g>
<g><ellipse cx="629.0" cy="729.0" rx="17.6" ry="7.4" class="o" style="stroke-width:2.2"/><ellipse cx="629.0" cy="726.4" rx="17.6" ry="7.4" class="o" style="stroke-width:2.2"/><ellipse cx="629.0" cy="725.9" rx="13.7" ry="5.3" class="i"/><path class="o" style="stroke-width:2.2" d="M617.5 713.4 L618.1 724.9 Q629.0 731.9 639.9 724.9 L640.5 713.4Z"/><ellipse cx="629.0" cy="713.4" rx="11.5" ry="4.7" class="o" style="stroke-width:2.2"/><path class="i" d="M624.2 717.6 V727.6 M634.8 717.4 V727.4"/><ellipse cx="629.0" cy="713.7" rx="6.3" ry="2.6" class="o" style="stroke-width:1.5;fill:#fff"/></g>
</g>

<!-- 40_knuckle.svg -->
<g id="knuckle">
<!-- rear U bracket (behind) -->
<path class="o" d="M561 620 L582.7 614 C588 613.5 592.5 615 594.5 617.4 C597.5 620.5 599 624 599.5 627.5 L599 640 L570 648 L561 640Z"/>
<path class="i" d="M563.5 623.5 L584 618 C588 618 591 620 593 623 M561.6 627.5 L574.2 635.9 L583 636"/>
<ellipse cx="585.2" cy="632.7" rx="3.6" ry="4.3" class="o" style="stroke-width:1.6"/>
<!-- toe-link arm to the right -->
<path class="o" style="stroke-width:2.3" d="M573 649 L616.4 627.5 C619 626.5 622 626.5 624.8 627.5 C629 629 632 631.5 633.3 634.2 C635 637.5 635.5 641 635 644.4 C634.8 649.5 633.5 654 631.6 657.8 C630 660.5 627.5 662 624.8 662.9 L581 681.5 L570 670Z"/>
<ellipse cx="621" cy="646.5" rx="9" ry="14.6" transform="rotate(18 621 646.5)" class="o" style="stroke-width:2"/>
<ellipse cx="621" cy="646.5" rx="7.4" ry="12.8" transform="rotate(18 621 646.5)" class="i"/>
<ellipse cx="620.3" cy="647" rx="3.2" ry="4.6" transform="rotate(15 620.3 647)" class="o" style="stroke-width:1.6"/>
<path class="i" d="M576 648 L615 629"/>
<!-- body right side / upper-right -->
<path class="o" style="stroke-width:2.3" d="M452.4 470.4 C452.3 465.5 453.3 462 455 460.2 C456.8 458.2 458.8 457.2 460.9 456.9 L486.2 456 C491 456.5 494.5 462 495.6 470 C496.3 477 495.3 483.5 492.9 488.9 L498 504.1 C503 503 508 504 512 507 C515.5 510.5 517 515.5 516.6 521 C516 527 513.5 532 509.5 535 L525 560 C528 557.5 532 556.8 535 558.5 C538 561 539 565 538 569.5 L536 576 L545.5 595.4 L558.2 591.2 L562.4 598.8 L561.6 622.4 L561.6 640 L572.5 664.6 C577 666 580 668.5 581 671.3 L581.8 688.2 C581 691.5 578 694 574.2 695 L564.1 697.5 L490 680 L440 560 L444 527.7 L454.1 488.9Z"/>
<!-- top boss bushing -->
<ellipse cx="487" cy="475.4" rx="8.1" ry="18.8" class="o" style="stroke-width:2.2"/>
<ellipse cx="487.3" cy="475.6" rx="5" ry="12.8" class="o" style="stroke-width:1.6"/>
<ellipse cx="487.6" cy="475.6" rx="2.5" ry="7.4" class="o" style="stroke-width:1.6;fill:#fff"/>
<path class="t" d="M454.1 487.2 L457.5 485.5 L477.7 484.7"/>
<!-- upright ribs -->
<path class="t" d="M460.9 495.7 L454.1 524.3 M469.3 495.7 L472.7 531 M476 485.5 L482 536.2 M460.9 495.7 L469.3 495.7 M463 493.5 L466.5 493 M492.9 488.9 C489 492 484.5 492.5 480.5 491"/>
<!-- right boss cylinder -->
<path class="t" d="M482 514.2 C486 508 492 505 498 504.1 M487 534 L497 541"/>
<ellipse cx="504.7" cy="523.5" rx="11.3" ry="13.6" transform="rotate(25 504.7 523.5)" class="o" style="stroke-width:2.2"/>
<ellipse cx="504.8" cy="524" rx="5.4" ry="6.8" transform="rotate(25 504.5 524)" class="o" style="stroke-width:1.8"/>
<!-- upper right ear -->
<path class="t" d="M516 570 L520.5 566.5 L524 561 M531 583 L536 576"/>
<ellipse cx="527" cy="571.8" rx="2.6" ry="3.6" class="o" style="stroke-width:1.5"/>
<path class="i" d="M512 573 L519.5 587.5 L531 583 M522 588.7 L545.5 595.4 M519.5 587.5 L522 601"/>
<!-- sensor plate -->
<path class="o" style="stroke-width:2" d="M545.5 595.4 L558.2 591.2 L562.4 598.8 L561.6 622.4 L547.2 627.5 L543 610.6Z"/>
<path class="i" d="M541 598 C538.5 606 539 618 542.5 629 M538 600 C535.5 608 536 620 539 631"/>
<ellipse cx="552.3" cy="606.4" rx="4.6" ry="6.6" class="o" style="stroke-width:1.7"/>
<ellipse cx="552.3" cy="620" rx="2.4" ry="3.2" class="o" style="stroke-width:1.5"/>
<path class="i" d="M552.3 606.4 L570 610.6"/>
<!-- body lower-right contour -->
<path class="t" d="M543.9 630.8 C541 637 539.5 643 538.8 649.4 M547.2 627.5 L561.6 627.5"/>
<!-- lower arm plate -->
<path class="o" style="stroke-width:2.3" d="M538.8 652 L572.5 664.6 C577 666 580 668.5 581 671.3 L581.8 688.2 C581 691.5 578 694 574.2 695 L564.1 697.5 L500 684 L480 676 L519.4 663.7Z"/>
<path class="k" d="M519.4 664.6 L547.2 675.5 M519 660 C522 657.5 527 654 532 652.5"/>
<ellipse cx="562.5" cy="670.3" rx="14" ry="6" class="o" style="stroke-width:2.2"/>
<ellipse cx="562.5" cy="671.3" rx="11" ry="4.6" class="o" style="stroke-width:2;fill:#fff"/>
<ellipse cx="562.5" cy="669.8" rx="7" ry="3" class="o" style="stroke-width:1.6;fill:#fafafa"/>
<path class="k" d="M549 673.5 C553 678 571 678.5 576 673.5"/>
<ellipse cx="523.6" cy="678" rx="4.3" ry="5.3" transform="rotate(-20 523.6 678)" class="o" style="stroke-width:2"/>
<path class="i" d="M524.5 675 C526.5 676.5 526.5 680 524.5 681.5"/>
<!-- left ear & bump behind ring -->
<path class="o" style="stroke-width:2.2" d="M419.5 542.9 C415 539 413 535 413.6 531 C414 526 415 522 417 519.3 C419.5 516 422.5 514.5 425.4 514.2 L430.5 516 L430.5 514.2 C431 510.5 433 508 435.5 507.5 C438.5 506.5 441 507.2 442.3 509.2 C444.5 512 445.6 515.5 445.7 519.3 L443 527.7 L450 560 L425 560Z"/>
<path class="t" d="M430.5 534.5 L430.5 516"/>
<ellipse cx="436.4" cy="517.6" rx="2.7" ry="3.2" class="o" style="stroke-width:1.6"/>
<!-- housing body inside ring -->
<ellipse cx="464.8" cy="606" rx="55" ry="74" transform="rotate(-16 464.8 606)" fill="#fff" stroke="none"/>
<!-- ribs -->
<path class="k" style="stroke-width:1.9" d="M434.7 543.7 L439.8 558.1 L454.1 554.7 M438.1 542.9 L443.1 556.4 M442.3 542.9 L454.9 554.7"/>
<path class="k" style="stroke-width:2.1" d="M420.4 562.3 L437.2 556.4 M426.3 568.2 L438.9 562.3"/>
<path class="k" style="stroke-width:1.9" d="M460 542.9 L460.8 563.1 L464.2 564 L464.2 542.9 M464.2 564 L477.7 558.1 L469.3 542.9"/>
<path class="k" style="stroke-width:1.9" d="M489.5 564 L481.1 575 L494.6 571.6 M484.5 561.5 L477.7 573.3 L464.2 578.3"/>
<path class="t" d="M423.7 566.5 L462.5 581.7 M474.3 594.4 L501.3 585.9 M443 557 L460 563.5"/>
<path class="k" style="stroke-width:2" d="M493 596 L505 590.8 M494 600.3 L506.5 594.5"/>
<path class="k" style="stroke-width:1.9" d="M494.6 626 L508.1 621 L511.5 637.8 L501.3 641.2 L499.6 651.3 L474.3 660.6"/>
<path class="t" d="M498 624.3 L509.8 636.2 M474.5 611 L475 640 M474.8 655 L474.3 660.6"/>
<path class="t" d="M481.1 661.5 L486.2 669.9 M484.5 660.6 L489.5 668.2 M460.8 661.5 L461.7 668.2 M469.3 664.8 L471 671.6 M465 663 L466.5 669.5"/>
<!-- ring -->
<ellipse cx="464.8" cy="606" rx="57.5" ry="76.4" transform="rotate(-16 464.8 606)" class="k" style="stroke-width:2.4"/>
<ellipse cx="464.6" cy="606" rx="52" ry="70.6" transform="rotate(-16 464.6 606)" class="t" style="stroke-width:1.6"/>
<path class="i" d="M503 552 C516 570 523 595 520.5 622 C518.5 645 508 663 493 674"/>
<!-- lower bosses under ring -->
<path class="o" style="stroke-width:2" d="M450.5 677 C449.5 681 451 684.5 455 686.5 C461 689.5 474 690 481 687.5 C485 686 486.5 683 486 679.5"/>
<path class="t" d="M453 683 C460 686 476 686.5 484 683.5"/>
<path class="o" style="stroke-width:1.8" d="M431 660 C429.5 663 430.5 666 433 667.5 L438.5 669.5"/>
<!-- front flange -->
<path class="o" style="stroke-width:2.2" d="M413.6 567 C415 564.5 418 563.5 421 564.5 L430 570 C442 575 455 581 466 584.5 C470 585.5 472.5 588 472.7 591 L472 598 C476 604 478 612 477.7 620 C477.5 630 476 638 474.3 645 L473.5 655 C472.5 659.5 469.5 661.5 466 660.5 L458 657 C448 656.5 438 653.5 429 649.5 C422 647.5 415.5 644.5 413 639.5 C411.5 635 411.3 630 411.5 625 C411.2 619 411 613 411 607.5 C411 595 411.5 584 412 575Z"/>
<ellipse cx="417.8" cy="572.2" rx="3" ry="3.6" class="o" style="stroke-width:1.8"/>
<ellipse cx="466.8" cy="589.8" rx="3" ry="3.6" class="o" style="stroke-width:1.8"/>
<ellipse cx="419.5" cy="637" rx="3" ry="3.6" class="o" style="stroke-width:1.8"/>
<ellipse cx="467.6" cy="655.6" rx="3" ry="3.6" class="o" style="stroke-width:1.8"/>
<path class="i" d="M414 581 C413.5 596 413.5 612 415 628 M422 567 L417 578"/>
<!-- bore -->
<defs><clipPath id="borec"><ellipse cx="442.3" cy="618.8" rx="26.5" ry="40.5" transform="rotate(-10 442.3 618.8)"/></clipPath></defs>
<ellipse cx="442.3" cy="618.8" rx="27.3" ry="41.3" transform="rotate(-10 442.3 618.8)" class="w" style="stroke-width:2.3"/>
<g clip-path="url(#borec)">
<ellipse cx="456" cy="615.5" rx="16.5" ry="35.5" transform="rotate(-10 456 615.5)" class="k" style="stroke-width:2.2"/>
<ellipse cx="461" cy="613.5" rx="16" ry="34" transform="rotate(-10 461 613.5)" class="t"/>
</g>
<path class="i" d="M418.5 595 C416.5 610 418 628 424.5 643"/>
</g>

<!-- 50_sensor_bracket.svg -->
<g id="sensor">
<!-- cable -->
<path d="M641 365.5 C655 371 667 373.5 678.1 373.5 C690 373.5 698 371.5 706 369.5 C716 366 724 361.5 731 356" fill="none" stroke="#000" stroke-width="8" stroke-linecap="butt"/>
<path d="M641 365.5 C655 371 667 373.5 678.1 373.5 C690 373.5 698 371.5 706 369.5 C716 366 724 361.5 731 356" fill="none" stroke="#fff" stroke-width="3.8" stroke-linecap="butt"/>
<!-- neck -->
<path class="o" style="stroke-width:1.8" d="M627 353.5 L641.5 361 L639.5 369 L625 362.5Z"/>
<path class="i" d="M637 358.8 L635 366.8"/>
<!-- tip -->
<path class="o" style="stroke-width:1.8" d="M589 344.5 L595.5 346.8 L593.5 354.5 L587.8 352 Q586.8 348 589 344.5Z"/>
<path class="o" style="stroke-width:1.8" d="M597 346.3 L608 350 L606 361.5 L595.3 357Z"/>
<!-- plate -->
<path class="o" style="stroke-width:2.2" d="M608.9 345.6 C612 343.8 616 343.8 619 345 C620.5 347 621 349 620.5 352 L615 362 L620.5 368.5 C621.5 372 620.5 376 618.2 379.5 C616 381 612.5 380.5 610.6 379 L606.5 360 C606 354 607 349 608.9 345.6Z"/>
<path class="i" d="M611.5 347.5 C609.5 352 609.3 357 610 361 L613.5 376.5"/>
<ellipse cx="616" cy="374.6" rx="1.6" ry="2.6" transform="rotate(20 616 374.6)" class="o" style="stroke-width:1.3"/>
<!-- main cylinder -->
<path class="o" style="stroke-width:2" d="M614.5 351.5 L622.5 350.5 C626 352 627.5 356 627 360.5 C626.5 364 625 366.5 622.5 367 L614 364.5 C612.3 360 612.5 355 614.5 351.5Z"/>
<path class="i" d="M619.5 351.2 C617.3 355 617.3 361.5 619.3 366"/>
<!-- axis -->
<path class="i" d="M565 341.9 L585.3 347.8 M621 380.5 L640 386 M646 387.5 L659 390.3"/>
</g>
<g id="bolt6" transform="translate(661.2 390.5) rotate(11)">
<path d="M0 -4.2 H24 V4.2 H0 Q-1.5 0 0 -4.2Z" fill="#fff" stroke="#000" stroke-width="1.8" stroke-linejoin="round"/>
<path d="M2.5 -4.2 q1.5 4.2 0 8.4 M6 -4.2 q1.5 4.2 0 8.4 M9.5 -4.2 q1.5 4.2 0 8.4 M13 -4.2 q1.5 4.2 0 8.4 M16.5 -4.2 q1.5 4.2 0 8.4 M20 -4.2 q1.5 4.2 0 8.4" stroke="#000" stroke-width="1.5" fill="none"/>
<rect x="23" y="-4.2" width="5" height="8.4" fill="#fff" stroke="#000" stroke-width="1.6"/>
<path class="o" style="stroke-width:2.2" d="M28.5 -10.8 H41 C45.5 -10.8 48 -6 48 0 C48 6 45.5 10.8 41 10.8 H28.5 C26 6 26 -6 28.5 -10.8Z"/>
<ellipse cx="41" cy="0" rx="6.6" ry="10.5" class="i"/>
<ellipse cx="41.5" cy="0" rx="3.4" ry="4.8" class="o" style="stroke-width:1.4"/>
<circle cx="42.5" cy="-0.5" r="0.7" fill="#111"/>
</g>
<g id="bracket23">
<!-- plate -->
<path class="o" style="stroke-width:2.3" d="M745.4 300 L744.9 352.2 L770.2 363.5 L771.3 294.3 L746 282.5Z"/>
<path class="i" d="M769 296 L768 362"/>
<!-- foot -->
<path class="o" style="stroke-width:2.3" d="M771.3 342.1 L779.7 339.8 L803.9 351.1 L771.3 363.5Z"/>
<ellipse cx="779.9" cy="350" rx="7" ry="2.9" transform="rotate(3 779.9 350)" class="o" style="stroke-width:2.2"/>
<!-- clip -->
<path class="o" style="stroke-width:2.4" d="M735.3 281.9 L737 285.9 L733.6 292.6 L731.4 309.5 Q731.5 311.5 733 312.3 L746 318.5 L755.5 323.5 Q759.5 325 762.9 320.7 Q765 316 766.2 309.5 L768.7 294.9 L746 283Z"/>
<path d="M735.3 281.9 L746.5 287 L759 292.5 Q762.5 294.5 762.3 298.2 L758.4 303.9 L756.1 320.7" class="k" style="stroke-width:2.2"/>
<path class="k" style="stroke-width:1.9" d="M740.4 287 L738.1 312.9 M743.7 290.4 L742 314 M747.1 290 L743.8 315.5 M753.9 294.9 L750.5 299.4 L748.2 316.5 M751 295 L748 299.4 L746.2 316"/>
<path class="t" d="M735.3 281.9 L737.5 280.6 L746 283"/>
</g>

<!-- 60_hub_plate_bearing.svg -->
<g id="hub7">
<!-- barrel behind -->
<path class="o" style="stroke-width:2.2" d="M208 683 C212 680 218 680 222.5 682.2 C228 686 231 691 232.3 696.2 C234 703 234.5 710 233.5 716 L215 705Z"/>
<!-- side thickness -->
<path class="o" style="stroke-width:2.3" d="M174.7 646.3 L191.5 650.5 C196 668 210 686 229.5 695.5 L235.8 718.7 L232.3 723 C225 735 221 745 220.5 756 L222.5 780.6 L201.4 785.5 L190 770 L205 700 L180 655Z"/>
<!-- front face -->
<path class="o" style="stroke-width:2.4" d="M162 653.4 L174.7 646.3 L185.9 654.1 C190 670 203 690 221.1 700.5 L226.7 724.4 C219 733 215.5 742 214.7 752.5 L214 777.8 L201.4 785.5 C194 779.5 186 775.5 177.5 773.6 C170.5 772.5 164 771.8 157.8 770.7 C151 767 146 762 142.3 755.3 L140.2 738.4 C140.5 730 139 722.5 136.7 715.9 C133.5 709.5 130.5 703 128.3 696.2 L129 679.4 L133.9 673 C141 671 147 667.5 152.2 662.5Z"/>
<path class="i" d="M185.9 654.1 L191.5 650.5 M221.1 700.5 L229.5 695.5 M226.7 724.4 L232.3 723 M214 777.8 L222.5 780.6 M214.7 752.5 L220.5 756"/>
<!-- holes -->
<g class="o" style="stroke-width:1.7;fill:#fff">
<ellipse cx="174.7" cy="663.2" rx="4.9" ry="7" transform="rotate(-15 174.7 663.2)"/>
<ellipse cx="136" cy="691.3" rx="4.6" ry="6.8" transform="rotate(-15 136 691.3)"/>
<ellipse cx="214" cy="714.5" rx="4.9" ry="7" transform="rotate(-15 214 714.5)"/>
<ellipse cx="155" cy="757.4" rx="4.7" ry="6.8" transform="rotate(-15 155 757.4)"/>
<ellipse cx="202.1" cy="772.2" rx="4.9" ry="7" transform="rotate(-15 202.1 772.2)"/>
</g>
<g class="i">
<ellipse cx="175.4" cy="663.4" rx="3.4" ry="5.4" transform="rotate(-15 175.4 663.4)"/>
<ellipse cx="136.7" cy="691.5" rx="3.2" ry="5.2" transform="rotate(-15 136.7 691.5)"/>
<ellipse cx="214.7" cy="714.7" rx="3.4" ry="5.4" transform="rotate(-15 214.7 714.7)"/>
<ellipse cx="155.7" cy="757.6" rx="3.3" ry="5.2" transform="rotate(-15 155.7 757.6)"/>
<ellipse cx="202.8" cy="772.4" rx="3.4" ry="5.4" transform="rotate(-15 202.8 772.4)"/>
</g>
<ellipse cx="151.5" cy="672.3" rx="2.6" ry="3.6" transform="rotate(-20 151.5 672.3)" class="o" style="stroke-width:1.5"/>
<ellipse cx="210.5" cy="748.3" rx="2.9" ry="4" transform="rotate(-15 210.5 748.3)" class="o" style="stroke-width:1.6"/>
<!-- central ring -->
<ellipse cx="173.9" cy="718.4" rx="28.8" ry="37" transform="rotate(-10 173.9 718.4)" class="o" style="stroke-width:1.6"/>
<ellipse cx="174.5" cy="718.6" rx="25.5" ry="33.5" transform="rotate(-10 174.5 718.6)" class="i"/>
<ellipse cx="176.5" cy="718.5" rx="21" ry="29" transform="rotate(-10 176.5 718.5)" class="o" style="stroke-width:1.5;fill:#fff"/>
<!-- inner bore rings -->
<ellipse cx="180.5" cy="716.5" rx="15" ry="20.5" transform="rotate(-10 180.5 716.5)" class="i"/>
<ellipse cx="181.7" cy="715.9" rx="9.8" ry="13" transform="rotate(-10 181.7 715.9)" class="o" style="stroke-width:2;fill:#fff"/>
<path class="i" d="M173.5 712 L186 705.5 M173 716 L189.5 708 M173.8 720 L191 712.5 M175 724 L191.5 717 M177.5 727 L191 721.5"/>
<!-- castle lugs -->
<path class="o" style="stroke-width:2" d="M150.1 694.8 L156.4 688.5 L170.5 689.2 L183.1 697.6 L180.3 701.9 L171.9 704 L166.2 697.6 L152.2 698.3Z"/>
<path class="o" style="stroke-width:2" d="M145.1 701.9 L146.6 713.1 L138.1 715.9 L143.7 738.4 L148 741.2 L157.8 737 L159.9 741.2 C166 746 170 748 173.3 748.3 L173 753 C164 751 155 746 148 741.2 M145.1 701.9 C147 698.5 149 696.5 152.2 698.3 C150 704 149.5 710 150.5 716 L157.8 737"/>
<path class="i" d="M146.6 713.1 L150.3 712 M141 714.5 L144 711 L143.5 703"/>
<path class="o" style="stroke-width:2" d="M173.3 748.3 L178.9 731.4 L188.7 727.2 L195.8 725.8 L194.4 738.4 L185.9 751.1 L176.1 753.9Z"/>
<path class="i" d="M178.9 731.4 C181 737 181 744 176.1 753.9 M188.7 727.2 L189.5 730"/>
</g>
<g id="plate3">
<path class="o" style="stroke-width:2.2" d="M255.6 625.3 L259.4 624.4 L306.2 642.2 L311.9 648.7 L317.5 682.5 L313.7 716.2 L306.2 722.8 L302.5 723.7 L260 650Z"/>
<path class="o" style="stroke-width:2.4" d="M245.3 630 Q248 626.5 255.6 625.3 L302.5 642.2 Q306.5 643.5 308.1 646.9 L313.7 682.5 L310 716.2 Q308 722 302.5 723.7 L250 705 Q246.5 703.5 245.5 700 L243.4 690 L241.6 660Z"/>
<path class="i" d="M303.5 645 C308 668 309.5 695 305.5 720.5"/>
<ellipse cx="251.5" cy="636" rx="3.2" ry="3.8" class="o" style="stroke-width:1.7"/>
<ellipse cx="298.7" cy="654.7" rx="3.6" ry="4.2" class="o" style="stroke-width:1.7"/>
<ellipse cx="251.5" cy="696" rx="3.5" ry="4.2" class="o" style="stroke-width:1.7"/>
<ellipse cx="298.4" cy="715.3" rx="3.6" ry="4.3" class="o" style="stroke-width:1.7"/>
<path class="i" d="M260.3 647.8 C253.5 653 250.5 662 251.5 673 C252.5 684 257 693.5 264 699.5"/>
<path class="w" style="stroke-width:2.2" d="M273.5 645 L274.5 642.5 L276 644.8 L279.5 647.5 C288 652 295 662 297.8 675 C299.5 686 297.5 696 293 702 C290 704.5 285.5 705 281 704 L278.5 710.5 L275.2 708.5 L272 701 C264.5 696 258.5 686 257 675 C255.8 664 258 654 263.3 648 C266 645.5 269.5 644.5 273.5 645Z"/>
<path class="i" d="M272 701 L274.5 703.5 L276 708"/>
</g>
<g id="bearing2">
<ellipse cx="373.2" cy="640.6" rx="28" ry="37" transform="rotate(-14 373.2 640.6)" class="o" style="stroke-width:2.3"/>
<path class="o" style="stroke:none" d="M343.7 615 L366.2 604.7 L395 665 L377.5 682.5 L358.7 687.2Z"/>
<path class="k" style="stroke-width:2.3" d="M341.5 616 L364 605.8 M360.5 686.8 L381.5 676.5"/>
<ellipse cx="351.2" cy="650.6" rx="28" ry="37" transform="rotate(-14 351.2 650.6)" class="o" style="stroke-width:2.4"/>
<ellipse cx="351.4" cy="650.6" rx="25" ry="33.5" transform="rotate(-14 351.4 650.6)" class="i"/>
<ellipse cx="351.8" cy="650.4" rx="22.5" ry="30.5" transform="rotate(-14 351.8 650.4)" class="i"/>
<ellipse cx="352.3" cy="650" rx="19.5" ry="26.5" transform="rotate(-14 352.3 650)" class="t" style="stroke-width:1.8"/>
<ellipse cx="352.5" cy="650" rx="17" ry="23.5" transform="rotate(-14 352.5 650)" class="i"/>
<ellipse cx="353" cy="649.5" rx="13.5" ry="19" transform="rotate(-14 353 649.5)" class="w" style="stroke-width:1.8"/>
</g>
<g id="bolt4" transform="translate(161.2 603.2) rotate(-14.4)">
<path d="M8 -5 H43 Q45.5 0 43 5 H8Z" fill="#fff" stroke="#000" stroke-width="1.9" stroke-linejoin="round"/>
<rect x="8" y="-4.1" width="9" height="8.2" fill="#fff"/>
<path d="M18 -5 q1.8 5 0 10 M21.7 -5 q1.8 5 0 10 M25.4 -5 q1.8 5 0 10 M29.1 -5 q1.8 5 0 10 M32.8 -5 q1.8 5 0 10 M36.5 -5 q1.8 5 0 10 M40.2 -5 q1.8 5 0 10" stroke="#000" stroke-width="1.5" fill="none"/>
<ellipse cx="2" cy="0" rx="11.5" ry="14" class="o" style="stroke-width:2.3"/>
<ellipse cx="0" cy="0.5" rx="11.2" ry="13.6" class="o" style="stroke-width:2"/>
<path class="o" style="stroke-width:2" d="M-11.5 -1 L-8.5 -8.5 L-1 -10.5 L4 -5.5 L4.5 4 L0 10.5 L-7.5 9 L-11 3Z"/>
<path class="i" d="M-1 -10.5 L-2.5 -2 L-8 -0.5 M-2.5 -2 L4.5 4 M-8 -0.5 L-7.5 9"/>
</g>

<!-- 70_link13.svg -->
<g id="link13">
<!-- bottom stub -->
<path class="o" style="fill:#fff;stroke-width:2" d="M555.6 1014 L557.5 1021.5 Q565 1025 572.5 1021.5 L576.2 1014Z"/>
<path class="t" d="M557 1018.5 Q565 1021.5 574 1018"/>
<!-- arm + housing -->
<path class="o" style="stroke-width:2.4" d="M585.6 972.2 L632.5 946.9 L720 912.2 L765.3 890.7 C770 886 774 880 777.5 876 C780 872 783 869.5 787.2 868.7 L801.8 868.7 C810 870 816.5 873.5 821.3 878.5 C824.5 882 826.5 886 827.4 890.7 C828.3 896.5 827.8 902.5 826.2 907.7 C824 913.5 820.5 918.5 816.5 922.3 C812 925.5 807 927 801.8 927.2 C795 926 789 922 782.3 917.5 L720 946.9 L660.6 971.2 L632.5 982.5 L610 997.5 L581.9 1012.5 C575 1016 566 1016.5 557.5 1015.3 C551 1014.5 545.5 1011.5 541.6 1006.8 L541.6 980.6 C543 974 552 970.5 564 970.3 C576 970.3 585 974 586.5 980.6Z"/>
<!-- housing bands -->
<path class="k" d="M541.6 981 C544 987.5 553 990.5 564 990.5 C573 990.5 581 988 586 982.5"/>
<path class="t" d="M541.8 988 C546 994.5 555 996.5 565 996 C574 995.5 581 993 586 988 M541.8 994.5 C546 1000.5 555 1002.5 565 1002 C574 1001.5 581 998.5 587 994 M541.8 1001 C546 1007 555 1009 565 1008.3 C574 1007.8 581 1005 588 1000"/>
<!-- arm inner lines -->
<path class="t" d="M598.7 969.4 L720 920.6 L777.5 890.7 C783 884 789 877 797 872.4"/>
<path class="k" style="stroke-width:1.8" d="M585.6 988.1 L651.2 956.2 L720 926.2 L775 899"/>
<path class="t" d="M610 982.5 L649.3 965.6 M660.6 960 L720 935.6 L787.2 907.7 C788 902 790 897 792.1 893.1 C796 886 801 880.5 806.7 877.3 M583.7 1005 L620 985 L649.3 969.4 M586 982 L600 975.5 L640 957 M589 995 L640 970"/>
<path class="i" d="M640 951 L720 916.5 L768 894"/>
<!-- stud -->
<path class="o" style="stroke-width:2" d="M556.6 953.4 L552.8 969.4 C556 978.5 574 978.5 577.2 971.2 L573.4 953.4Z"/>
<path class="t" d="M552.8 969.8 C557 974.5 573 974.5 577.2 971.2"/>
<path class="o" style="fill:#fff;stroke-width:2" d="M557.7 931 Q557.7 929 560 929 H570 Q572.3 929 572.3 931 V951 Q565 953.5 557.7 951Z"/>
<path class="t" d="M557.7 934.5 Q565 936.5 572.3 934.5 M557.7 940 Q565 942 572.3 940 M557.7 945.5 Q565 947.5 572.3 945.5"/>
<path class="i" d="M556.6 953.4 Q565 956 573.4 953.4"/>
<!-- right eye bushing -->
<path class="t" d="M806 870 C816 876 822 887 822 900 C822 911 817 920 809 925.5"/>
<ellipse cx="809" cy="902.5" rx="11" ry="15.8" transform="rotate(-12 809 902.5)" class="t"/>
<path class="o" style="stroke-width:2" d="M806 891.5 L817.5 895.5 C822 898.5 823.5 903 822.5 908 C821.5 912 819 915 816 915.5 L805.5 912.5 C801.5 906 802 897 806 891.5Z"/>
<ellipse cx="818" cy="905.3" rx="5.2" ry="8.6" transform="rotate(-12 818 905.3)" class="o" style="stroke-width:2"/>
<ellipse cx="818.8" cy="905.6" rx="3.2" ry="5.6" transform="rotate(-12 818.8 905.6)" class="o" style="stroke-width:1.5;fill:#fff"/>
<!-- nut 12 mid -->
<path class="o" style="stroke-width:2.2" d="M699 852 L706 849.5 L710 852 L708 872 L703 871 L697.5 864 L697 856Z"/>
<path class="i" d="M699.5 858 L706 856 L708.5 852.5 M703 870.5 L705 863"/>
<ellipse cx="714.3" cy="862.6" rx="10.8" ry="13.8" transform="rotate(-12 714.3 862.6)" class="o" style="stroke-width:2.4"/>
<ellipse cx="716.2" cy="862.8" rx="4.6" ry="6.6" transform="rotate(-12 716.2 862.8)" class="o" style="stroke-width:1.7"/>
<ellipse cx="717" cy="863" rx="2.6" ry="4.6" transform="rotate(-12 717 863)" class="i"/>
<!-- washer 16 -->
<ellipse cx="750.7" cy="876" rx="14.3" ry="18.4" transform="rotate(-15 750.7 876)" class="o" style="stroke-width:2.6"/>
<path class="t" style="stroke-width:1.8" d="M750.5 874.5 C748.5 875.5 747.8 878.5 749.5 880.5 C751.5 882.5 754 881 754.5 878.5 M752.5 872.5 L755 871.5"/>
<path class="t" d="M758 862 C762 870 762 882 757 891"/>
</g>

<!-- 71_link17.svg -->
<g id="link17">
<!-- axis lines -->
<path class="i" d="M222.6 974.5 V1003 M222.7 1067.6 V1096.4"/>
<!-- bottom stub -->
<path class="o" style="fill:#fff;stroke-width:2" d="M207.4 1054 L208.5 1059.5 Q220 1064.5 232 1060.5 L233 1054Z"/>
<!-- arm body -->
<path class="o" style="stroke-width:2.4" d="M191 1017.9 C191.5 1010.5 205 1005 222.6 1005 C240 1005 253.5 1010.5 254.3 1019 L267.2 1028.4 L380 1065.8 L478.4 1099.7 L520.6 1117.3 L530 1118.5 C535 1119.5 538.5 1121 540.5 1123.2 C542.3 1125.5 543 1128.3 542.8 1131.4 C542.5 1135 541.3 1137.8 539.3 1139.6 C537 1141.5 534 1142.7 530 1143.1 L518.2 1141.9 L492.5 1132.6 C491 1134 490.2 1136 490.1 1138 L490.1 1143.1 C491 1145.5 493.5 1147 497.2 1147.8 L515.9 1157.2 L530 1158.3 C535 1159.5 538.5 1161.5 540.5 1164.2 C542.3 1166.5 543 1168.8 542.8 1171.2 C542.5 1174.5 541.3 1177.3 539.3 1179.4 C536.5 1181.5 532.5 1182.7 527.6 1182.9 L515.9 1180.6 L462 1157.2 L380 1122 L332.8 1100 L290.6 1082.3 L255.4 1064.7 L232 1060 C225 1060 215 1059.5 208.6 1058.9 C203.5 1058 199.5 1057 196.9 1055.3 C193 1053 191 1050.5 191 1047.2Z"/>
<!-- eye top rings -->
<path class="t" d="M191 1018.5 C192 1026.5 205 1031.5 222.6 1031.5 C237 1031.5 249 1028 253.5 1022"/>
<ellipse cx="222.8" cy="1018.8" rx="25" ry="10" class="t"/>
<ellipse cx="222.6" cy="1020" rx="19.8" ry="7.6" class="o" style="stroke-width:2.3;fill:#fff"/>
<path class="o" style="stroke-width:2.2" d="M208.6 1006.3 V1017.5 Q222.6 1025 236.6 1017.5 V1006.3Z"/>
<ellipse cx="222.6" cy="1006.2" rx="14" ry="5.3" class="o" style="stroke-width:2.2"/>
<ellipse cx="222.6" cy="1006.4" rx="5.2" ry="2.3" class="o" style="stroke-width:1.5;fill:#fff"/>
<!-- slot -->
<path class="k" style="stroke-width:1.9" d="M243.7 1033.1 L380 1078.7 L462 1108 Q470 1109 473.7 1105.6 L476 1102.1"/>
<path class="t" d="M248.4 1030.7 L380 1070.5 L477 1102.3 M240 1029.5 L252 1023.5 M470 1108.6 L380 1076.5 L262 1037"/>
<!-- fork details -->
<path class="i" d="M462 1110.3 V1157.2"/>
<path class="t" d="M470.2 1125.5 L469 1150.1 L473.7 1157.2 L497.2 1165.5 L516 1180.5 M469 1150.1 L490.1 1143.1 M470.2 1125.5 L492.5 1132.6"/>
<path class="o" style="stroke-width:2.2" d="M470.2 1125.5 L492.5 1132.6 C491 1134 490.2 1136 490.1 1138 L490.1 1143.1 L469 1150.1Z"/>
<path class="t" d="M462.5 1110.5 L511.2 1130.2 M469 1150.1 L474 1157.5"/>
<ellipse cx="526" cy="1127.2" rx="14.6" ry="7" class="t"/>
<ellipse cx="525.3" cy="1126.7" rx="7" ry="3.4" class="o" style="stroke-width:1.8;fill:#fff"/>
<ellipse cx="526" cy="1167.6" rx="14.6" ry="7" class="t"/>
<ellipse cx="525.3" cy="1167.2" rx="7" ry="3.4" class="o" style="stroke-width:1.8;fill:#fff"/>
</g>

<!-- 80_arm21.svg -->
<g id="arm21">
<!-- axis lines -->
<path class="i" d="M776.2 1184.6 L790.5 1191.8 M811.3 1203.7 L832 1213.3"/>
<!-- outer -->
<path class="o" style="stroke-width:2.5" d="M844.9 1199.6 C847 1198 849 1197.3 851.1 1197.5 L861.4 1200.6 L863.5 1205.8 L875.9 1212 L886.2 1210.9 C889.5 1212.5 891.5 1215.5 892.4 1219.2 C893 1224 892 1229 890.3 1233.6 C888.8 1239 886.5 1244 884.1 1248 C881.5 1251 878.5 1253 875.9 1254.2 L873.8 1257.3 L861.4 1260.4 C856.5 1265.5 852.5 1271 849.1 1276.9 L824.3 1320.2 L803.7 1349.1 L795.5 1361.4 C790.5 1367 785 1372 779 1375.9 C773.5 1379.8 768 1383.2 762.5 1386.2 C757.5 1389 752.5 1391.5 748 1393.4 C742.5 1396 737 1397.8 731.5 1398.6 C726.5 1399 721.5 1398.3 717.1 1396.5 C712.5 1394.5 708.5 1391.8 705.8 1388.2 C702.5 1383.5 700.8 1378 700.6 1371.8 C701.5 1365 703.8 1359 706.8 1353.2 L721.2 1324.3 C725.5 1316.5 730.5 1309.5 735.7 1303.7 C743.5 1296 752.5 1289.5 762.5 1283.1 L783.1 1268.7 L801.6 1252.2 L820.2 1235.7 L832.6 1221.2 C835.5 1217 837.5 1213 838.8 1208.9 C840.5 1205 842.5 1202 844.9 1199.6Z"/>
<!-- inner rim -->
<path class="t" d="M850.5 1203.5 C846 1208.5 843 1215 840.5 1221.5 L825 1239 L806 1256 L787.5 1272.5 L766.5 1287 C757 1293.5 748 1300 741 1307.5 C735.5 1313.5 730.5 1320.5 726.5 1328 L712 1356 C709 1362 707 1367.5 706.5 1373.5 M864 1262.5 C858.5 1268.5 855 1274 852 1279.5 L828 1322.5 L807.5 1352 L799 1364 C794 1370 788.5 1375 782.5 1379 C776 1383 770 1386.5 764.5 1389.5 C758 1393 752 1395.5 746 1397.5"/>
<path class="t" d="M849.1 1276.9 L843 1276 L819 1318 L798.5 1346.5 L790.5 1358.5 C785.5 1364 780 1368.5 774.5 1372 C766 1377.5 758 1381.5 750 1384.5 C742 1387.5 733 1388.5 725.5 1386 M843 1276 C846 1270 850 1264.5 855 1259.5"/>
<path class="t" d="M702 1377 C705 1384 711.5 1389.5 720 1391.5 C728 1393 737 1392 746 1388.5 M843 1269.5 L838.5 1268.5 L836.5 1272"/>
<!-- raised plate -->
<path class="t" d="M768.7 1293.4 L779 1283.1 L822.3 1256.3 L836.7 1246 L842.9 1241.9 L844.9 1231.5 L842.5 1226 M803.7 1250.1 L807 1251.8 L822.3 1241.9 L840 1225 M822.3 1241.9 L820.5 1257.5 M783 1279.5 L781.5 1283.5 M845 1231.5 L861 1246"/>
<ellipse cx="827.4" cy="1264.1" rx="3.9" ry="2.2" transform="rotate(15 827.4 1264.1)" class="o" style="stroke-width:1.4;fill:#fff"/>
<!-- bushing top right -->
<path class="t" d="M863.5 1205.8 C858.5 1214 856.5 1225 857.5 1236 C858 1245 859.5 1253 861.4 1260.4 M867.5 1208 C863 1216.5 861.5 1226 862.5 1236.5 C863.2 1245 864.8 1252.5 866.8 1258.5"/>
<path class="t" d="M875.9 1212 C871.5 1219 870.5 1228 871.3 1237 C872 1244 873.5 1250 875.9 1254.2 M880.5 1212 C877 1218.5 876 1227 876.8 1235 C877.3 1241.5 878.8 1247 881 1250.8"/>
<ellipse cx="885.4" cy="1235.5" rx="5.2" ry="11.5" transform="rotate(-8 885.4 1235.5)" class="o" style="stroke-width:2"/>
<ellipse cx="886.3" cy="1236.5" rx="2.4" ry="4.6" transform="rotate(-8 886.3 1236.5)" class="o" style="stroke-width:1.5;fill:#fff"/>
<!-- rubber mount -->
<ellipse cx="762.5" cy="1323" rx="23" ry="15.6" transform="rotate(-8 762.5 1323)" class="t"/>
<path class="t" d="M741 1330 C742 1338 750 1343.5 762 1343 C773 1342.5 782.5 1337 785 1328"/>
<ellipse cx="763" cy="1321.5" rx="14.6" ry="10" transform="rotate(-8 763 1321.5)" class="o" style="stroke-width:1.9"/>
<ellipse cx="763.5" cy="1322" rx="3.6" ry="2.2" class="o" style="stroke-width:1.4;fill:#fff"/>
<path class="t" d="M779 1309.5 C782 1306 786.5 1305.5 789.5 1308 C792 1310.5 792 1314 789.5 1316.5"/>
<circle cx="785.4" cy="1311.2" r="2.4" class="t"/>
<path class="t" d="M785 1328 L790.5 1340.5 M787 1338 L795 1342"/>
<!-- slot -->
<path class="t" d="M761.2 1344.5 L764.2 1345 L760.3 1367 L757.3 1366.6Z"/>
<!-- ball joint -->
<ellipse cx="725.4" cy="1366" rx="17.6" ry="9.4" transform="rotate(8 725.4 1366)" class="o" style="stroke-width:2"/>
<path class="t" d="M708 1368 C709 1376 716 1381.5 726 1382 C735 1382.3 741.5 1378.5 743 1372.5"/>
<ellipse cx="726.5" cy="1361" rx="10.5" ry="5.2" transform="rotate(8 726.5 1361)" class="o" style="stroke-width:2"/>
<path class="o" style="stroke-width:2" d="M720.5 1345 L719 1359 Q726 1364 734.5 1360.5 L736 1347Z"/>
<path class="o" style="stroke-width:2" d="M725 1331 Q725.3 1326.8 729.5 1326.4 Q734 1327 734.2 1331 L733.5 1347 Q729 1349.5 724 1346.5Z"/>
<path class="i" d="M736.5 1337 L739 1336 L739.5 1345 L737 1346.5"/>
<!-- nut 12 lower -->
<path class="o" style="stroke-width:2.2" d="M752.5 1176 L757 1170.5 L764.3 1168.7 L768 1172 L764 1192 L757.5 1188.5 L754 1183Z"/>
<path class="i" d="M754.5 1181 L760.5 1177.5 L765 1170 M760.5 1177.5 L760 1189"/>
<ellipse cx="772.2" cy="1182.2" rx="10.2" ry="13.7" transform="rotate(-20 772.2 1182.2)" class="o" style="stroke-width:2.4"/>
<ellipse cx="770.9" cy="1183" rx="4.6" ry="6.6" transform="rotate(-20 770.9 1183)" class="o" style="stroke-width:1.8;fill:#fff"/>
<path class="t" d="M769 1179.5 C767.8 1182 768.2 1185.5 770 1187.5"/>
<!-- washer 16 lower -->
<ellipse cx="802.5" cy="1201.3" rx="14.2" ry="18.4" transform="rotate(-25 802.5 1201.3)" class="o" style="stroke-width:2.6"/>
<path class="t" d="M790.5 1196 C789 1203 791 1212 796 1217.5"/>
<path class="k" style="stroke-width:1.8" d="M805.5 1196 C809.5 1196 811.5 1199.5 810.5 1203 C809.5 1206 806.5 1207.5 803.5 1206.5 C805.5 1205 806.5 1202.5 806 1199.5 L803 1198.5Z"/>
</g>

<!-- 81_bracket26_shield25.svg -->
<g id="shield25">
<path class="o" style="stroke-width:2.4" d="M856.6 1332.4 L869 1334.4 C876 1336.5 882 1339.5 887.5 1342.7 C897 1349 906 1357 914.3 1365.4 C922 1370.5 929 1376 934.9 1381.9 C941 1388 946 1395 949.4 1402.5 C953.5 1410 956 1418.5 957.6 1427.2 C959.5 1435 961 1443.5 961.8 1452 C962 1460.5 961.5 1468.5 959.7 1476.7 C957 1484 953 1491 947.6 1496.1 L931.3 1516.4 L911 1536.8 L890.7 1557.1 L874.4 1573.4 L874.8 1578.1 L869.7 1575.1 C865 1577 860 1578 855.3 1578.1 L834.6 1578.1 C827 1577.5 820 1576 814 1574 C807.5 1571 802 1567.5 797.5 1563.7 C795 1560.5 794.5 1556.5 795.5 1552.4 L801.6 1547.2 L812 1536.9 L836.7 1520.4 L857.3 1501.9 C861.5 1498 864.5 1494 866.6 1489.5 C865.5 1482 863 1475 859.4 1468.9 C854.5 1462 848 1456 840.8 1451.3 C832 1446.5 823 1442.5 814 1440 L811.2 1431.3 L780.3 1421 L778.2 1415.9 L783.4 1404.5Z"/>
<path class="t" d="M783 1406.5 L782.5 1414 L811.2 1427 C823 1432 833 1438 842.5 1445.5 C851 1452 858.5 1460 864.5 1470.9 C867 1477 868.5 1483 868.6 1489.5 M779 1417 L787 1424 M814 1440 C816 1437.5 814.5 1433.5 811.2 1431.3"/>
<path class="t" d="M803.7 1548.2 L871.8 1570.9 L900 1547.2 M801 1550.5 L870 1573.5 M797 1555.5 L803.7 1548.2 L799.5 1558.5 M871.8 1570.9 L875 1577.5"/>
<path class="t" d="M953 1435 C955 1447 955.5 1460 953.5 1472 C951 1481 947 1488.5 942 1494 L926 1513 L906 1533 L886 1553 L872.4 1567"/>
<!-- tabs -->
<path class="t" d="M846.3 1359.2 C849 1352.5 852.5 1346.5 858.7 1340.6 L867.9 1345.8 L868.5 1350 L860.7 1360.2 M859.8 1359 L867.5 1349.3"/>
<path class="t" d="M827.7 1381.9 C830.5 1375 834.5 1368.5 840.1 1363.3 L849.4 1368.5 L850 1372 L842.2 1381.9 M841.3 1380.8 L849 1371.3"/>
<path class="t" d="M808.1 1405.6 C811 1398.5 815 1391.5 820.5 1386 L831.9 1392.2 L832 1395.5 L823.6 1405.6 M822.6 1404.5 L831 1394.8"/>
<path class="t" d="M836 1403.5 L892.7 1429.3 L882.4 1443.7 L827.7 1415.9Z"/>
<path class="t" style="stroke-width:1.2" d="M800.5 1423.3 L808.5 1426.3 Q810.5 1427.5 809.5 1428.8 L801.5 1426 Q799.5 1424.8 800.5 1423.3Z M866 1471 L868 1477.5 L870 1476.5 L868 1470.3Z"/>
<path class="t" d="M921 1403.5 L925 1396.5 L923.5 1405 M915 1420.5 L918.5 1415.5 L917.5 1422 M891 1448 L895 1443 L898 1444.5 L894 1450Z"/>
<circle cx="925.7" cy="1414.5" r="1.7" class="t"/>
<rect x="906.3" y="1440" width="3.4" height="3.4" class="o" style="stroke-width:1.3;fill:#fff"/>
</g>
<g id="bracket26">
<path class="o" style="stroke-width:2" d="M889 1099.2 L896.6 1090.7 L904.2 1091.6 L911 1095.8 L897.5 1107.6Z"/>
<path class="o" style="stroke-width:2" d="M869.6 1122.8 L877.2 1114.3 L887.4 1117.7 L877.2 1129.5Z"/>
<path class="o" style="stroke-width:2" d="M849.4 1147.2 L857 1139.6 L866.3 1142.2 L872 1137 L861.2 1158.2 L857 1155.7Z"/>
<!-- main plate -->
<path class="o" style="stroke-width:1.4" d="M902.5 1112.7 L952.3 1146.4 L928.7 1185.2 L877.2 1135.4Z"/>
<path class="k" style="stroke-width:2.2" d="M902.5 1112.7 L952.3 1146.4 M877.2 1135.4 L928.7 1185.2"/>
<!-- top bar -->
<path class="o" style="stroke-width:1.9" d="M922 1089.9 L926.2 1091.6 L927 1095 L923.6 1100 L922.5 1097 L866 1153.5 L861.5 1158 L863.7 1154.8 L861 1152Z"/>
<path class="t" d="M924.5 1091.5 L863 1154 M911 1095.8 L916 1094.5 M887.4 1117.7 L892 1119"/>
<!-- right flange -->
<path class="o" style="stroke-width:2" d="M952.3 1146.4 L954 1140.5 L955 1147 L931.5 1188 L938 1196.2 L948.1 1200.4 L954.8 1198.7 L959 1190.3 L951.5 1186 L942.2 1189.4 L938 1196.2 L931.2 1205.4 L923.6 1213 L922.5 1208 L926.2 1198.7 L928.7 1185.2Z"/>
<path class="o" style="stroke-width:2" d="M958.2 1166.6 L963.3 1159 L973.4 1158.2 L976.8 1163.3 L970.9 1173.4 L964 1171Z"/>
<circle cx="967.5" cy="1164.3" r="2.7" class="o" style="stroke-width:1.5;fill:#fff"/>
<circle cx="948.9" cy="1192.8" r="2.7" class="o" style="stroke-width:1.5;fill:#fff"/>
<path class="t" d="M965 1124.5 L970 1122 L963.3 1132.9Z"/>
<!-- screws 27 -->
<g>
<path class="o" style="stroke-width:2.2" d="M982.8 1053 V1061.5 Q986 1064 989.2 1061.5 V1053Z"/>
<path class="k" style="stroke-width:1.4" d="M983 1057 h6 M983 1060 h6"/>
<path class="o" style="stroke-width:2.6" d="M978 1051.5 C978 1045.5 994 1045.5 994 1051.5 C994 1056.5 978 1056.5 978 1051.5Z"/>
<path class="t" d="M981.5 1050.5 Q986 1048.3 990.5 1050.5 Q986 1052.5 981.5 1050.5"/>
<path class="o" style="stroke-width:2.2" d="M966 1081.5 V1090 Q969.2 1092.5 972.4 1090 V1081.5Z"/>
<path class="k" style="stroke-width:1.4" d="M966.2 1085.5 h6 M966.2 1088.5 h6"/>
<path class="o" style="stroke-width:2.6" d="M961.2 1080 C961.2 1074 977.2 1074 977.2 1080 C977.2 1085 961.2 1085 961.2 1080Z"/>
<path class="t" d="M964.7 1079 Q969.2 1076.8 973.7 1079 Q969.2 1081 964.7 1079"/>
</g>
</g>

<!-- 82_dash_over.svg -->
<g id="dashover">
<path class="d" style="stroke-dasharray:30 5 6 5;stroke-width:1.7" d="M938 1335 L925.7 1413.8"/>
<path class="d" style="stroke-dasharray:30 5 6 5;stroke-width:1.7" d="M925 1335 L908.1 1441.6"/>
<path class="i" d="M561.6 647.7 V668"/>
<path class="d" style="stroke-dasharray:14 4 3 4" d="M561.6 647.7 L595.3 657.8 V742 L626.8 752 V738"/>
<path class="i" d="M552.3 606.4 L570 610.6"/>
<path class="d" style="stroke-width:1.7;stroke-dasharray:14 5 6 5" d="M771.8 1262.5 L766.5 1300"/>
<path class="i" d="M766.5 1300 L763.5 1322.3"/>
</g>

<!-- 90_labels.svg -->
<g id="labels">
<path class="l" d="M103.5 312.1H191.6 M400.6 323.7H449 M313 363.6H456.6 M384.8 413.2H448.9 M103 457.3H158 M710 399.8H757.9 M689.6 487H750.4 M367.5 530H410.6 M103.5 605.9H146.9 M817.2 648.4H865.9 M646.5 714.9H693.2 M153.2 964.1H201.5 M440.2 971.4H485.8 M153.2 1028.8H188.4 M546.4 1086.2H594.4 M153.2 1141.2H212.2 M636 1378.3H695.4 M659.8 1511.7H717.5 M950.7 1511.8H1013.7"/>
<path class="l" d="M758.6 236.8V287 M681.9 313.4V366 M879.4 313.6V384 M967.7 356.2V443.4 M1018.3 375.3V493.2 M378 682.5V780 M293.2 726.5V810.5 M200.3 790.5V843 M712.9 796V843 M752.6 811V854 M798.7 828V866.3 M881.8 859V920 M985.1 1006V1044 M903.4 1052.8V1089.9 M764.6 1111V1166 M807.2 1128.5V1180 M1024.7 1233V1296"/>
<text transform="translate(86.8 320.6) scale(1.1 1)">11</text>
<text transform="translate(468.4 332.2) scale(1.1 1)">12</text>
<text transform="translate(468 371.2) scale(1.1 1)">8</text>
<text transform="translate(468.7 421.4) scale(1.1 1)">10</text>
<text transform="translate(89.5 466.6) scale(1.1 1)">9</text>
<text transform="translate(759.6 230.2) scale(1.1 1)">23</text>
<text transform="translate(681.5 306.5) scale(1.1 1)">5</text>
<text transform="translate(768.4 407.8) scale(1.1 1)">6</text>
<text transform="translate(878.2 307.3) scale(1.1 1)">11</text>
<text transform="translate(966.8 349.9) scale(1.1 1)">8</text>
<text transform="translate(1017.6 369.5) scale(1.1 1)">12</text>
<text transform="translate(769 494.8) scale(1.1 1)">10</text>
<text transform="translate(353.5 538.6) scale(1.1 1)">1</text>
<text transform="translate(89 614.9) scale(1.1 1)">4</text>
<text transform="translate(875.8 657) scale(1.1 1)">9</text>
<text transform="translate(712 723.4) scale(1.1 1)">14</text>
<text transform="translate(377.4 803.9) scale(1.1 1)">2</text>
<text transform="translate(293 834.8) scale(1.1 1)">3</text>
<text transform="translate(199.6 867.3) scale(1.1 1)">7</text>
<text transform="translate(712.3 789.8) scale(1.1 1)">12</text>
<text transform="translate(751.5 804.9) scale(1.1 1)">16</text>
<text transform="translate(799 822.1) scale(1.1 1)">13</text>
<text transform="translate(881.5 852.1) scale(1.1 1)">15</text>
<text transform="translate(134 973.7) scale(1.1 1)">19</text>
<text transform="translate(504.7 981.5) scale(1.1 1)">14</text>
<text transform="translate(134 1037.9) scale(1.1 1)">17</text>
<text transform="translate(984.2 998.7) scale(1.1 1)">27</text>
<text transform="translate(902.5 1045.4) scale(1.1 1)">26</text>
<text transform="translate(613.1 1095.2) scale(1.1 1)">19</text>
<text transform="translate(764.1 1103.6) scale(1.1 1)">12</text>
<text transform="translate(807 1122) scale(1.1 1)">16</text>
<text transform="translate(134 1150.3) scale(1.1 1)">18</text>
<text transform="translate(1023.5 1226.7) scale(1.1 1)">22</text>
<text transform="translate(614.2 1388.1) scale(1.1 1)">21</text>
<text transform="translate(639.1 1522.1) scale(1.1 1)">20</text>
<text transform="translate(1030.5 1521.6) scale(1.1 1)" style="fill:#585858">25</text>
<circle cx="789.2" cy="811.8" r="35.2" fill="none" stroke="#d8201f" stroke-width="1.7"/>
</g>

<!-- 95_watermark.svg -->
<g id="watermark" style="mix-blend-mode:multiply">
<defs>
<clipPath id="wmc"><circle cx="966.6" cy="1499.9" r="99.5"/></clipPath>
<clipPath id="shc"><path d="M909.5 1442.5 Q967 1432 1025 1442.5 V1513 C1024 1540 1004 1560 968.6 1579.5 C934 1560 910.5 1540 909.5 1513Z"/></clipPath>
<path id="wmarc" d="M911.5 1443 Q966.5 1426 1023 1443"/>
<filter id="wmb" x="-10%" y="-10%" width="120%" height="120%"><feGaussianBlur stdDeviation="2.5"/></filter>
</defs>
<circle cx="966.6" cy="1499.9" r="99.5" fill="#d58f91"/>
<g clip-path="url(#wmc)">
<g filter="url(#wmb)">
<path d="M860 1462 L925 1418 L1000 1398 L1070 1420 L1070 1458 L1035 1438 L990 1420 L930 1440 L870 1490Z" fill="#c87276"/>
<path d="M1029 1460 L1070 1457 L1070 1492 L1029 1505 Z" fill="#e8b2b4"/><path d="M1029 1506 L1070 1493 L1070 1514 L1029 1532 Z" fill="#c67a7e"/><path d="M1029 1534 L1070 1516 L1070 1560 L1035 1545 Z" fill="#dc9fa1"/>
<path d="M868 1492 L908 1470 L908 1535 L876 1530Z" fill="#dc9c9e"/>
<path d="M872 1535 L910 1540 L950 1580 L985 1600 L895 1600Z" fill="#c87c80"/>
<path d="M1030 1545 L1070 1565 L1040 1595 L985 1600 L1000 1575 Z" fill="#c9787c"/>
<path d="M1030 1555 L1062 1500 L1070 1505 L1040 1562Z" fill="#c06c70"/>
</g>
</g>
<path d="M905.6 1426 Q967 1406 1028.8 1426 V1514 C1027.5 1545 1006 1564 968.6 1584 C932 1564 907 1545 905.6 1514Z" fill="#7c7e80"/>
<path d="M909.5 1442.5 Q967 1432 1025 1442.5 V1513 C1024 1540 1004 1560 968.6 1579.5 C934 1560 910.5 1540 909.5 1513Z" fill="#dcdcbc"/>
<g clip-path="url(#shc)">
<rect x="950.2" y="1430" width="34" height="152" fill="#7c7e80"/>
<rect x="952.2" y="1430" width="30" height="152" fill="#cd5054"/>
<path d="M950.2 1454.5 L967.5 1468 L984.2 1454.5 V1527 H950.2Z" fill="#7c7e80"/>
<path d="M909 1464 Q925 1454.5 949.5 1456.5 L967.5 1470.5 L985.5 1456.5 Q1010 1454.5 1025 1464 V1525 H909Z" fill="#dcdcbc"/>
<path d="M909 1525 H1025 V1543.3 H909Z" fill="#dcdcbc"/>
<path d="M950.2 1543.3 H984.2" stroke="#7c7e80" stroke-width="2" fill="none"/>
</g>
<!-- D -->
<path d="M921.7 1458 H947 Q966.5 1458 966.5 1480 V1501 Q966.5 1523 947 1523 H921.7Z M937.5 1472 V1509 H943 Q949 1509 949 1502 V1479 Q949 1472 943 1472Z" fill="#6a6e72" fill-rule="evenodd"/>
<!-- C -->
<path d="M1015.2 1483 V1479 Q1015.2 1458 994 1458 H991 Q970 1458 970 1480 V1501 Q970 1523 991 1523 H994 Q1015.2 1523 1015.2 1502 V1497 H999.5 V1501 Q999.5 1509 993 1509 H992 Q985.5 1509 985.5 1501 V1480 Q985.5 1472 992 1472 H993 Q999.5 1472 999.5 1480 V1483Z" fill="#6a6e72"/>

<!-- AUTO -->
<g fill="none" stroke="#7a7c7a" stroke-width="2.4">
<path d="M926.5 1537.5 L937 1529.5 H939.5 L950 1537.5 M931 1535 H945.5"/>
<path d="M954 1528.7 V1534 Q954 1537 958 1537 H966.5 Q970.5 1537 970.5 1534 V1528.7"/>
<path d="M973.5 1529.7 H992 M982.7 1529.7 V1538"/>
<rect x="995.5" y="1529.7" width="17" height="7.3" rx="2.5"/>
</g>
<text style="fill:#fff;font-size:14.5px;font-weight:bold;text-anchor:start" textLength="110" lengthAdjust="spacingAndGlyphs"><textPath href="#wmarc" startOffset="1">DCAUTO.COM</textPath></text>
</g>

</svg>
</body></html>
